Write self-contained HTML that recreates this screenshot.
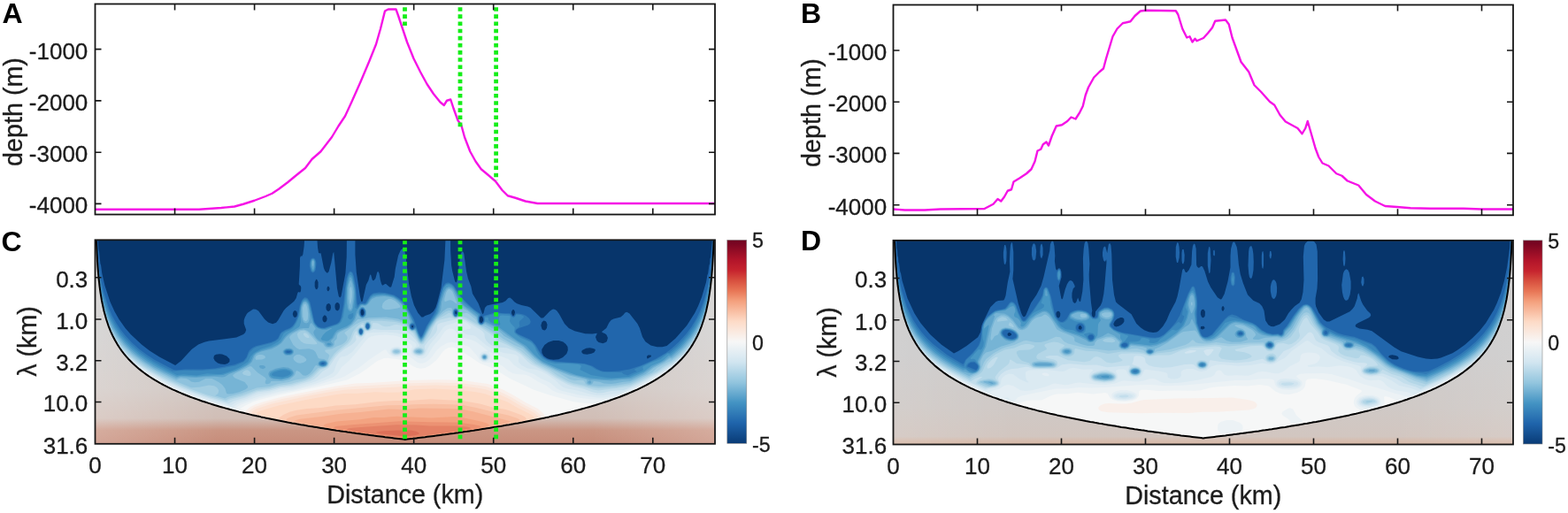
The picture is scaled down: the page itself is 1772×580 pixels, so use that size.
<!DOCTYPE html>
<html lang="en"><head><meta charset="utf-8"><title>Seamount bathymetry and wavelet power</title>
<style>html,body{margin:0;padding:0;background:#fff}body{width:1772px;height:580px;overflow:hidden}svg{display:block}text{font-family:"Liberation Sans",Arial,Helvetica,sans-serif;fill:#1c1c1c}.tk{font-size:26px}.cbt{font-size:23.2px;stroke-width:0.3px;stroke:#1c1c1c}.lb{font-size:28.7px}.tk,.lb{stroke:#1c1c1c;stroke-width:0.3px}.pl{font-size:32px;font-weight:bold;fill:#000}</style></head><body>
<svg width="1772" height="580" viewBox="0 0 1772 580">
<defs>
<linearGradient id="cb" x1="0" y1="0" x2="0" y2="1"><stop offset="0" stop-color="#6e0220"/><stop offset="0.1" stop-color="#b3152a"/><stop offset="0.15" stop-color="#c6242e"/><stop offset="0.2" stop-color="#d8503f"/><stop offset="0.25" stop-color="#e87656"/><stop offset="0.3" stop-color="#f4a07d"/><stop offset="0.4" stop-color="#fddbc7"/><stop offset="0.5" stop-color="#f7f7f7"/><stop offset="0.6" stop-color="#d1e5f0"/><stop offset="0.7" stop-color="#92c5de"/><stop offset="0.8" stop-color="#4393c3"/><stop offset="0.9" stop-color="#1f64ab"/><stop offset="1" stop-color="#093b76"/></linearGradient>
<clipPath id="cC"><rect x="107.5" y="271.3" width="700.5" height="230.5"/></clipPath>
<clipPath id="cD"><rect x="1009.5" y="271.8" width="700.5" height="230.7"/></clipPath>
</defs>
<rect width="1772" height="580" fill="#fff"/>
<g clip-path="url(#cC)"><defs><linearGradient id="ogCh" x1="0" y1="0" x2="1" y2="0"><stop offset="0" stop-color="#fff" stop-opacity="0.22"/><stop offset="0.2" stop-color="#fff" stop-opacity="0"/><stop offset="0.8" stop-color="#fff" stop-opacity="0"/><stop offset="1" stop-color="#fff" stop-opacity="0.22"/></linearGradient></defs>
<defs><linearGradient id="ogC" x1="0" y1="0" x2="0" y2="1" gradientUnits="objectBoundingBox"><stop offset="-0.001" stop-color="#cbcbcb"/><stop offset="0.472" stop-color="#cdcbca"/><stop offset="0.732" stop-color="#d1c8c4"/><stop offset="0.871" stop-color="#d1beb6"/><stop offset="0.927" stop-color="#ca9684"/><stop offset="1.001" stop-color="#c68b79"/></linearGradient></defs>
<rect x="106.5" y="270.3" width="702.5" height="232.5" fill="#07356b"/>
<path fill="#2166ac" d="M106 269.8l4.5 0 .9 12 .7 3 1.3 13.1 .7 2 1.2 9 3.2 14 5.9 18.1 5 11 5.1 9 7.1 10 6.1 7 12.3 11.6 9 6.9 11.1 7.1 18 9.5 6.5 -5 12 -13 7.5 -5.6 7 -2.8 5 -1.1 31 -4.2 8 -3.3 2 -2.1 1.1 -3 -2.5 -7 0 -4 1 -3 2.1 -4 1.3 -1.5 6 -3.9 3 .1 3 1.8 7 9.5 4 3.4 5 1.8 4 -1.5 2.2 -2.7 6.4 -11 2.7 -3 8.8 -7.3 2.5 -3.8 1.7 -6 .8 -.9 1 .6 1 -.2 .8 -1.5 .3 -4 -.8 -2 -1.5 -1 -.3 -1 1.2 -20 .1 -9.1 .7 -2 .5 -.4 1 .4 1.1 -2 1.3 -9 .6 -9 14.2 0 .6 10 1 6 1.2 .6 1 -.3 .5 .7 3.2 16.1 1.2 3 2.1 2.5 1 .1 1.4 -1.6 2.7 -10 1.9 -10.1 1 -2 3.8 41.1 1.8 9 1.4 1.5 1.3 -1.5 4.9 -26 1.3 -18.1 .2 -21 9.5 0 0 18 1.4 20.1 4.1 27 1.3 5.8 1 .5 .6 -1.3 4 -18 2.6 -5 1.8 -6.4 1 .2 1.4 5.2 .6 1 1 .3 2.1 -2.3 1.9 -7 1 -1.1 1.3 2.1 1.4 8 1.2 4 1.1 1.8 3 -1.6 1 0 4 3.5 1 .2 1 -.6 3.5 -11.3 1.1 -9 3.3 -15.1 2.7 -6 1.4 -1.4 1 -.1 1 .7 1.1 1.8 1.1 5 3.7 32.1 2.8 14 3 10.1 4.4 8.7 4 4.8 2 0 2.1 -1.5 5.7 -2 3.8 -3 2.4 -4.1 2 -5.9 4.3 -17.1 3.8 -31.1 1.1 -24 5.6 0 0 13 1 17.1 1 6 3 12 1.2 1.7 1.2 -1.7 3.6 -28.1 1.2 -4 1 -1.2 1 0 1 2.2 2.8 20.1 1.9 8 3.4 9 1.6 8 6.6 11.1 4.7 12.2 1.2 -1.2 1.5 -6 2.3 -2.4 4 -1.2 13.7 -2.4 3.3 -1.7 3 -3.2 2 -.5 2 1.3 3 3.4 3 2 5 1.8 7 1.4 3.1 1.3 12 11.7 2 .1 1 -.6 7 -7.2 2.5 -1.8 1.5 -.5 2 .4 2 1.7 2.5 3.4 6.1 11 4.8 5 6.6 3.2 12 3 8 .3 5 -.7 .4 .2 -1.8 4 1.4 4 2.1 2.1 4.9 1.1 3 -1.1 1.4 -1.1 1.1 -4 -1.5 -3.4 -2 -1.6 -2.6 -1 -.7 -1 5.1 -4 3 -6 2.3 -3 2.9 -1.6 8 -2 3 -2.3 2 -2.5 2 -.8 3 1.8 9 11.5 2.5 4.9 3.2 10 3.3 5.2 6 4.3 7.1 1.7 3 .1 3 -.1 5.1 -1.1 9.9 -8.6 12.7 -14.5 8.9 -14 3.9 -8 4 -10.1 5 -17 1.4 -8 .8 -2 1.2 -9 .7 -2 .3 -5.1 .7 -2 1.9 -21 4.5 0 0 233.5 -703.5 0zM244.1 400.7l-2.1 1.4 -.7 3 1.6 3 3.2 2.3 3 1.1 5 .4 3 -.9 2.3 -1.9 .1 -3 -3.4 -3.6 -5 -1.9 -3 -.4zM333.2 350.9l-1.5 1.1 -1 3 1 3 1.5 1.1 2 -1.1 .8 -3 -.7 -3zM357.2 315.8l-1.5 3.1 0 5 1.2 3 1.3 .3 1.3 -2.3 .1 -6 -1.4 -3zM366.2 356.5l-1.7 2.5 0 3 1.2 2 1.5 .6 1.9 -1.6 .6 -3 -1.3 -3 -1.2 -.6zM371.2 323.8l-1 .3 -.5 .8 -.3 2 .7 2 1.1 .3 1.4 -2.3 -.3 -2zM381.2 341.9l-1 .3 -1.5 1.8 -.3 3 .7 3 2.1 1.4 2.1 -1.4 .7 -3 -.3 -3 -1.5 -1.8zM409.2 349.8l-1 .8 -.6 2.4 .6 3 1 .8 1 -.2 1 -1.4 .3 -2.2 -1.2 -3zM465.3 367.9l-.2 2.1 1.2 .7 1 -1.8 -1 -1.2zM514.3 351.9l0 2.7 1 .8 1 -.9 .1 -1.5 -1.1 -1.6zM543.3 357.6l-1.2 1.4 -.2 4 1.3 2 1.1 .1 1.6 -2.1 .3 -2 -.9 -2.5 -1 -1zM579.3 350.3l-1.1 1.7 -.2 2 1.3 2.8 1 .3 1 -1.3 .7 -2.8 -.7 -2.1 -1 -.8zM614.4 362.6l-2 1.6 -1.1 3.8 1.2 4 1 1 1.9 .4 1 -.4 1.5 -2 .6 -4 -1.1 -3 -1.1 -1zM625.4 384.9l-5.9 2.2 -4.1 2.9 -3.1 5.1 .1 3.8 2 3.6 4 2.7 3 1.1 4 .4 6 -.4 4.7 -2.2 4.2 -4 1.5 -4 -.3 -4 -2.1 -3.2 -3 -2.3 -5 -1.7zM662.4 393.8l-4 1.9 -1.2 1.4 .5 2 1.7 1.1 4 .6 5 -1 3 -1.4 1.5 -2.3 -.5 -1.3 -3 -1.1 -3 -.4zM732.4 401.5l-1.5 1.6 .5 2.3 1 -.1 3.7 -2.2 -.7 -1.5zM371.2 342.9l-2 1.3 -.8 2.8 .3 3 1.5 1.7 1 .4 2 -1.4 .8 -2.7 -.3 -3 -1.5 -1.8z"/>
<path fill="#307ab6" d="M106 269.8l3.6 0 .4 12.2 2 20.1 2 13.5 3 14 6 18.7 4 9 4 7.3 5 7.6 6.2 7.8 6.8 7.3 8 7.1 8.8 6.7 9.2 5.9 21.1 11.1 3 .3 10 -.9 20 .1 14 -1.2 22 -4.1 10 -4.1 3.4 -4.1 2.2 -6 1.3 -2 3.1 -2.9 4 -1.9 16.9 -4.2 4.9 -2.1 3.2 -2.6 2.6 -5.4 1.5 -1.6 4 -2.5 5 -1.8 3 -2.1 3 -4 3.3 -7 2.1 -12 2.2 -6.1 1.4 -1.9 2 -1.7 2 .1 1 .6 1.7 1.9 1.6 3.1 4.7 21.3 1 2.3 3 3.4 3 1.4 4 .3 14.4 -4.7 2.7 -2 1.9 -4.1 3 -15.4 1.5 -17.6 1.9 -12 2 -6 1.6 -1.8 1 -.4 2.1 1.2 1.6 4 2.1 11 1.6 20.1 .6 2.1 3 -2.3 5 .1 1 -.5 5 -8.2 2 -1.8 2 -1 6 -.8 7 .5 10 2.5 5 2.9 4 3.3 6.4 8.2 7.2 13 5.5 15.7 2 4.1 1 -.2 1 -1.4 4.5 -10.2 9.8 -16 2.3 -6 6.6 -23.1 2.8 -3.4 2 -.9 2 0 3 1.2 2.6 2.1 7.4 11.6 6.8 7.5 8.9 8 7.2 5 .2 1 -1.9 2 -.6 2 .3 4 1.7 2 1.8 0 1.8 -2 .6 -2 -.8 -4 .5 -1 11.5 -3.3 5 -.3 5 .8 8 .1 2 3 1 .9 1 .2 1 -.6 2 -3.3 3 -.1 5 1.1 3.2 1.5 3.6 3 1.5 3 -.1 2 -1.1 1.6 -2.1 1.2 -9 3 -3 1.5 -1.4 1.7 .4 2 3 2.1 12.1 5.4 3 1.9 4.6 5.7 5.8 10 3.6 3.6 4 2.1 8 1.6 33 2.5 9 2.9 5.1 3.3 4.3 2 4.2 1 3.4 .1 13 -.7 12 -2.1 13 -4.2 16.1 -7.1 12 -7 6 -4.7 9 -8.1 8 -8.8 6 -8.1 5.6 -9.4 4.4 -9.2 4 -10.8 4 -14.5 3 -16.1 3 -27.4 .4 -12.2 3.6 0 0 233.5 -703.5 0zM324.2 396.8l-1.1 1.3 1.1 .6 2 .3 2.5 -.9 -.5 -1.2zM364.2 410l-1.5 1.1 .8 1 2.1 0 1.2 -1 -.6 -1zM408.2 348.9l-1.5 3.1 .1 3 1.4 2.5 2 .5 2 -2.7 .2 -3.3 -1.7 -3 -1.5 -.4zM415.2 366l-1.1 1 -.5 2 .6 2 1 .8 1.5 -.8 .7 -2 -.5 -2zM464.3 367l-.7 2 .4 2 1.3 1.1 1.4 -.1 1.8 -2 .1 -2 -.8 -1 -1.5 -.7zM515.3 349.9l-1.9 1.1 -.6 3 1.2 3 1.3 .4 1 -.6 1.2 -2.8 -.9 -3zM407.2 372.4l-1 1.4 0 2 1 1.7 1 .2 1.3 -1.7 .1 -2 -1.4 -1.8zM352.7 291.8l1.5 -.2 1.8 1.2 1 2.1 .5 3 -.8 7 -1 2 -1.5 1.3 -1 .1 -1.7 -1.4 -1.7 -6 0 -3 .9 -4.1z"/>
<path fill="#3a88bd" d="M106 269.8l3.3 0 1.7 29.3 2 15.6 3 15.4 6 19.6 4 9.2 4 7.4 5 7.7 6.3 8 6.7 7.1 8 7.2 7.7 5.8 9.3 6.1 10.5 5.9 11.6 5.7 14 -1.1 18 .2 19 -1.6 20 -3.7 9 -4.2 3.3 -3.3 3.7 -7.9 4.4 -4.1 4 -2 16.6 -4.4 5 -2.2 2.8 -2.5 2.4 -5 1.6 -2 3.3 -2.1 6 -2.4 3 -2.4 3.4 -5.1 2.8 -7 1.9 -11 1.4 -4 1.5 -2.7 2 -1.6 1 -.2 2 1.1 2.3 3.4 1.3 4 4 18 1.4 2.6 3 3.1 4 1.6 4 0 14 -4.8 3 -2.5 2.4 -6 2.8 -16 1.3 -16.1 1.9 -11 1.6 -5 2 -2.1 1 .5 1.4 2.6 2.2 10 1.2 8 .6 15.1 .8 3 .8 .3 3 -3.6 5 0 1.7 -.7 4.8 -8.1 3.5 -2.4 6 -.6 7 .2 6 1.1 4 1.3 8 5.5 3 3.1 3.5 4.9 6 11 2.4 6 -.8 .9 -2 0 -1.5 1.1 -.6 2 .5 2 .7 1 1.9 .5 1.1 -.5 1.9 -2.2 1 .6 3 8.2 2 3.2 1 -.1 1 -1.1 5.9 -12.6 9.5 -14 6.6 -25 1.5 -4.1 3.4 -4 3.1 -.4 3 1.2 2.5 2.2 6.5 10.6 6 7 10 8.8 6.7 4.7 .5 1 -1.7 3 0 4 .6 2 1.9 1.5 2 -.5 1.6 -2 .6 -2 -.2 -4.3 11 -2.8 5 -.4 13 .8 2 2.8 2 .8 1.7 -.9 1.3 -2.4 1 -.2 4.1 .6 2.5 1 1.1 1 -.2 1 -4.5 4 -.7 2 .7 3 -.2 1 -4.7 4 -.5 2 .5 1 2.9 2.5 15.4 7.5 3.7 4.1 3.2 6 4.1 6 2.7 2.6 3 1.9 6 2 5 .9 26 1.5 7 1.1 6.2 2 5.8 3.7 7 2.8 22.5 .5 1.7 2 4.8 1.2 10.2 -4.2 -2.8 -2 1 -1 25.7 -11.5 11 -6.9 2 0 8 -6.8 7 -6.9 6 -7 6 -8.4 8 -15 4 -10.4 3 -10.1 3 -13.4 2 -13 2 -19.6 .1 -12.3 .6 -6 3.3 0 0 233.5 -703.5 0zM324.2 395.8l-2.1 1.3 -.1 1 1.2 1.3 4 .4 2 -.7 .8 -1 -.1 -1 -1.2 -1zM364.2 409.1l-2.2 1 -.5 1 .7 1.3 3 .8 2.5 -1.1 .6 -1 -.4 -1 -1.7 -1zM408.2 348.6l-1.6 2.4 -.1 4 .7 2 1 1 2 .3 2.1 -2.3 .4 -4 -1.5 -3 -1 -.7zM415.2 365.6l-1.4 1.4 -.5 2 .6 2 1.3 1.2 1 -.2 .9 -1 .6 -2 -.5 -2.2 -1 -1zM514.3 349.7l-1.2 1.3 -.6 3 1 3 1.8 .8 2 -2 .4 -2.8 -1.4 -2.9zM407.2 371.9l-1 1.1 -.2 3 1.2 1.9 1 .2 1.6 -2.1 .1 -2 -1.4 -2zM352.3 292.8l1.9 -.4 .8 .4 1.5 3.1 -.1 6 -1 4 -1.2 1.3 -1 0 -1.2 -1.3 -1.3 -5 .2 -5z"/>
<path fill="#4796c4" d="M106 269.8l3 0 .8 6 .2 16 .8 4.1 .2 8.2 2 15.4 3 14.7 6 19.1 3 7 5 9.2 5.8 8.5 6.2 7.6 7.4 7.5 8.3 7 10 7 10 6 11.6 6 10.8 4.8 7 -.7 15 1.2 12 -2.2 11 .8 5 -.1 3.6 -.8 11.1 -4 6.4 -3 9.2 -6 2.8 -6 3.9 -4.2 8 -4.5 11.1 -3.3 7.9 -4.5 3 -2.8 3.4 -6.8 2.7 -2 4 -1.5 4 -2.8 3.3 -4.7 2.4 -5 1.5 -5 1.7 -11 2.1 -4.5 2 -1.5 2 .3 1 .8 2 3 5.4 21.9 2 3 2.6 2.4 4 1.4 4 .1 15 -5 2.4 -1.9 1.4 -2 1.9 -5 2.5 -16 1.5 -19.1 2.1 -10 1.2 -1.9 1 -.3 2 2.2 3 14 .4 7 -.3 14.1 1.7 1 1.2 -.3 2.6 -3.7 1.4 -1.1 4 .5 1.4 -.4 1.9 -2 3.7 -6.4 3 -1.8 5 -.8 7 -.2 10.3 2.1 4.7 2.8 4 3.3 3 3.2 3.3 4.8 7.5 15 -.2 1 -2.5 1 -.9 1 -.5 2 .5 2 1.9 1.8 2 -.3 2 -1.7 1 .9 3 8.1 2 2.8 1 0 1.4 -1.6 6.6 -13.3 9.6 -13.7 1 -3 2.4 -12.3 4 -12.8 3 -3.8 3 -.5 3 1.1 2 1.8 7 11.6 5 6.5 17 13 -.8 6.4 .6 3 1.2 1.3 2 .4 1.4 -.7 2.2 -3 .3 -4 2.1 -.2 1.4 .2 .4 3 1.9 2 6.8 3 3.5 .7 1 -.7 0 -1 -1.7 -6 1.3 -3 2.4 -.5 9 .5 .5 2 -.9 4 1.7 3 3.9 4 .3 1 -.9 4 1 2 6.4 4.7 11.1 5.1 2 1.4 3 3.7 1.5 4.2 2.9 5 3.6 3.8 3 2.1 4 2 8 2 15 .1 11 1 2.8 1 .7 1 -1.5 4 12.5 6 17.5 3 6 .3 19 -1.5 15.8 -6.8 .7 -1 -.6 -3 1.1 -1 8 -4 11.1 -4.2 8 -6.2 3.3 .4 11.7 -10.3 10 -11.5 6 -8.8 5 -9.2 4 -9.6 4 -12.6 3 -13 2 -12.5 1 -8.5 .2 -8.2 .8 -3.8 .2 -16.3 .8 -6 3 0 0 233.5 -703.5 0zM315.1 419l-6 2.1 -2 1.7 -.1 1.3 2.1 1.2 10.1 1.3 5.9 -1.5 3 -2 .6 -1 -.9 -2 -3.6 -1.6 -4 -.3zM325.2 395l-3 1 -.9 1.1 -.1 1 1 1.4 2 .9 2 .1 2 -.3 2 -1.1 .4 -2 -.7 -1 -1.7 -.8zM363.2 408.7l-2 1.3 -.4 1.1 .2 1 1 1 3.2 .6 2 -.5 1.4 -1.1 .1 -2 -1 -1 -2.5 -.7zM399.2 353.8l-5.5 2.2 -.6 3 1.7 2 1.4 .3 2 -1.3 1.3 -3zM409.2 347.8l-2 1.2 -.6 1 -.7 3 .9 4 2.4 1.7 2.2 -.7 1.3 -2 .4 -2 -.3 -3 -1.2 -2zM414.2 365.8l-1.1 2.2 .1 2 1.3 2 1.7 .3 1.6 -2.3 -.2 -3 -1.4 -1.6zM514.3 349.3l-1.6 1.7 -.6 3 1 3 1.2 1 1 .1 2.2 -2.1 .5 -3 -1.3 -3zM407.2 371.7l-1.3 1.3 -.1 3 1.2 2 1.2 .4 1.5 -1.4 .5 -2.8 -1 -2 -1 -.6zM352.1 293.8l1.1 -.8 1 0 1 .8 .7 2.1 -.1 6 -.6 2.7 -1 1.7 -1.3 -.4 -1.4 -4 -.3 -4z"/>
<path fill="#5fa4cc" d="M106 269.8l2.9 0 .7 5 .3 17 .8 4.1 .3 10.5 .7 2.5 .3 7.1 .8 2.9 .2 4.4 2 10.4 3 11.5 3 8.9 3 7.2 5 9.4 6 9 6 7.4 7 7.2 8 6.8 9.8 7 10.2 6.2 11.2 5.8 12.9 5.7 4 -1 18 1 10 -1.1 20 -.8 14.3 -4.8 11.9 -6 4.8 -4 3.1 -7 2.9 -3 6 -2.9 12 -3.4 7 -3.4 3.2 -2.3 4.3 -6.1 3.6 -3.5 12.4 -7.5 .9 -1 1.5 -5 -.5 -9 .7 -8 2 -5.2 2 -1.5 2.4 .7 2.1 3 3.1 15 2.7 7 2.7 3.5 3 2.1 4 1.2 5 0 4.5 -1.8 1.8 0 -7.3 4.6 -3.3 3.4 -2.3 4 .4 1 1.9 1 4.3 .8 2 -.5 4.2 -3.3 3.2 -6 2.6 -2.8 10.6 -4.2 4.4 -3.1 4 -5.3 2.6 -8.6 4.8 -7 1.6 -.5 3 .4 2 -.6 1.4 -1.3 2.6 -4.8 3 -2.5 4 -1.3 7 -.7 6 .5 6.6 1.7 4.7 3 5.7 5.3 5.1 7.4 5.3 11.4 .2 1 -2.9 3 .1 4 2.3 2.1 1.4 -.1 2.6 -1.3 1 1.3 3.6 9 1.4 1.4 1 .1 2.1 -2.5 6.1 -12 10.5 -15 1.1 -3 2.6 -13.1 3 -9 2.6 -3.7 3 -1.2 3 .7 2 1.6 2 2.9 4 8.2 4.7 6.6 3.7 3 6.6 4 6.2 5 .7 1 .3 7 1.8 2.6 1 .4 2 -.3 3 -3 1 .1 16 7.3 19.2 13.9 10.1 6.1 9.1 10 5.6 5 4.4 3 15.6 7 22 8 16.1 3.4 19 1.5 26 -2 15 -6.5 9 -7 10.1 -4.3 3.5 -2.1 5.5 -5.2 3 0 11.3 -9.8 9.7 -11 6 -8.7 5 -9 4 -9.3 4 -12.3 3 -12.9 2 -12.9 .3 -7.1 .7 -3 .3 -10 .8 -3.1 .2 -17 .8 -6 2.9 0 0 233.5 -703.5 0zM317.1 417.1l-6 1.4 -4 1.7 -2 1.9 -.3 2 .4 1 1.9 1.7 2 .7 9.1 .9 8 -2 2.3 -1.3 1.9 -2 .3 -2 -.5 -1 -3 -2.2 -5 -1.2zM323.2 394.8l-2.6 2.3 .3 2 1.3 1.2 2 .7 3 0 2 -.5 1.8 -1.4 .3 -2 -2.1 -2.1 -3 -.6zM364.2 407.9l-2 .6 -1.8 1.6 -.1 2 .8 1 2.1 .9 2 .2 3.1 -1.1 1.2 -2 -.3 -1.3 -2 -1.5zM370.2 388l-.7 1.1 .7 1.2 2 .3 1.9 -.5 .2 -1 -1.1 -.8 -2 -.6zM408.2 347.7l-2.2 2.3 -.5 2 .1 3 1.6 3.1 1 .7 2 .2 2.5 -2 .8 -2 -.1 -3 -.6 -2 -1.6 -1.9 -1 -.6zM415.2 364.9l-1.5 1.1 -.9 3 .6 2 1.8 1.7 2 -.9 1.1 -2.8 -.9 -3zM515.3 348.9l-2.5 1.1 -1 4 1 3 1.5 1.3 1 .1 1 -.5 1.5 -1.9 .5 -3 -1.2 -3zM547.3 402.6l-.8 .5 -.2 1 1 .8 1.4 -.8 -.2 -1zM407.2 371.4l-1.5 1.6 -.1 3 1 2 1.6 .7 1.7 -1.7 .5 -3 -1.2 -2.2zM353 293.8l1.4 0 1 2.1 -.1 5 -1.1 3.8 -1 -.1 -1.3 -4.7 .1 -4zM394.9 313.9l1.3 -.7 1.5 1.7 2.5 10.4 .5 4.6 -.2 8 -1.5 10.1 -1.2 3 -1.6 .9 -2 -.7 -1.4 -2.2 -.9 -7 .3 -16.1z"/>
<path fill="#76b4d5" d="M106 269.8l2.8 0 .7 5 .3 17 .9 5.1 .2 10 .8 3 .3 7 .8 3 .2 5.2 2 11.6 5 17.8 3 7.5 5 9.8 5 7.8 6.7 8.5 7.3 7.6 7.4 6.4 9.6 6.9 10 6.2 9.3 4.9 15.8 7.2 5 -1.4 17 1.2 12 -1.1 9 -.2 9 .7 3 -.6 4.9 -2.8 12.1 -4.9 10.9 -6.1 2.8 -3 2.9 -7 2.4 -2.3 5 -2.2 12 -3.2 6 -2.8 5 -3.5 5.4 -7.1 4.7 -4 11 -5.4 4 -.7 5.5 .1 .7 -1 .8 -3.4 1 -1.2 1 -.2 4.3 5.8 .2 1 -1.9 2 -.6 2 1.1 3 2.9 4 3 2.5 6 2.3 .6 2.3 1.4 1.3 2 .5 3 -.3 1.9 -1.5 .2 -1 -2.4 -3.1 .4 -1 2.8 -3 3.1 -5.4 3 -2.4 9 -3.7 5 -3.8 4.2 -5.7 2.8 -7.7 1.4 3.7 2.6 2.5 2 .2 2.6 -1.7 1.1 -2 -.1 -5 -2.6 -3.8 -2 -.6 -1.2 .4 0 -1 1.2 -.6 3 .3 2 -.5 2.4 -2.2 3.6 -5.1 5 -2.1 9 -.8 7.6 .9 4.6 2 6.2 5.1 2.7 3 4 6 4.3 11 .3 1 -1.6 4 .4 3 2.6 2.4 4 -.7 4 9.3 2 2.5 1 .2 2.3 -2.7 6.9 -13 11.4 -16 1.3 -3 1.1 -9 3.1 -10.1 2.2 -4 2.7 -1.3 3 .9 2 2 4.7 9.4 5.2 7.1 16.9 13 1.4 7 1.8 1.9 2 .5 4 -2.3 15.9 6.9 9.1 7.1 19 12.4 12.1 12 9 6.8 14.5 6.8 16.5 6.2 18 4.4 4 1.8 4 -.3 20 1.2 13 -1.4 10 -.4 13 -5.8 12.1 -8.2 12 -6.3 6 -4.5 2 .1 1 -.6 12 -10.5 10 -11.8 6 -9.2 5 -9.8 4 -10.4 3 -10.5 3 -16 .2 -5.2 .8 -3 .3 -7 .8 -3 .2 -10 .9 -5.1 .2 -16 .8 -6 2.8 0 0 233.5 -703.5 0zM294.1 412.9l-1.4 1.2 1.4 2.2 3 1 2.6 -1.2 .4 -1 -1 -1.4 -2 -.8zM323.2 394.1l-2.1 1 -1.5 2 .2 2 2.4 2.3 2 .6 4 -.3 2 -.8 1.7 -1.8 -.1 -3 -1.6 -1.6 -3 -.9zM362.2 407.7l-2 1.4 -.8 2 .1 1 1.7 1.7 2 .7 3 0 2 -.8 1.6 -1.6 .1 -2 -1.7 -2 -3 -.9zM406.2 371.8l-.9 2.2 .3 3 1.6 1.8 1 .2 2 -2 .5 -3 -1.5 -2.5 -2 -.4zM414.2 365l-1.4 2 -.1 3 1.5 2.5 2 .4 1.8 -1.9 .5 -3 -.8 -2 -1.5 -1.4zM473.3 396.9l-.8 .2 .8 .7 1.2 -.7zM513.3 348.8l-1.5 2.2 -.1 4 1.6 3 2 .6 1.4 -.6 1.4 -2 .7 -2 -.1 -2 -.9 -2 -1.5 -1.5 -2 -.2zM547.3 401.8l-1 .4 -.6 1.9 .6 1.1 2 .3 1 -1 .1 -1.4 -.9 -1zM665.4 430.8l-.9 1.3 .3 1.1 1.6 .5 1.4 -.5 .3 -1.1 -.7 -1.5 -1 -.3zM320.2 415.1l-8.1 1.5 -7 3 -1.3 1.5 -.6 2 1.1 3 1.8 1.7 2 .8 9 1 8.1 -1.5 5.2 -3 1.4 -2 .2 -2 -1.8 -3.1 -4 -2.3zM353.1 294.9l1.1 -.1 .5 2.1 -.5 3.8 -1 .1 -.5 -2.9zM395.9 316.9l.3 -.4 1 1.7 1 3.1 1.5 8.6 -.3 7 -1.3 9.1 -.7 3 -1.2 1.2 -1 -.3 -1.1 -1.9 -1.1 -11.1 .3 -11 .9 -4.6zM343.4 342l1.8 -.5 1.8 1.5 1.2 2.3 1 4.7 .6 7 -.3 5 -1.3 2.7 -2 .8 -2 -.6 -1.2 -.9 -1.1 -2 -.9 -4 -.4 -7 .3 -4 1.3 -3.6z"/>
<path fill="#8ec2dd" d="M106 269.8l2.7 0 .8 6 .2 17 .9 4.1 .2 10 .8 3 .2 7 3.2 21 3 13 3 9.1 5 10.8 6 9.9 7 9 10.4 10.4 11.8 9 14.8 9.1 18.3 8.9 4.8 2.2 5 -1.8 6.1 .6 2.7 1 3.2 2.5 4 .7 5 -.6 7.2 -3.6 7.1 0 7.7 4 4 3 3.3 4.1 1.7 5.9 2 .5 4.6 -.4 7.8 -2 7 -3 2.5 -2 -.1 -2 -3.4 -4.1 -11.4 -4.9 -1.9 -2.1 0 -1 2.7 -2 16.2 -7.9 2 .1 7 7 8.7 5.8 1 2 -1 2 -.1 2.1 1.4 1 1 0 3.1 -1 1.1 -2.1 12.9 -.2 8 -2 5.1 -3.8 1.2 -2 .7 -2.9 1 -1.2 3 1.2 4 4.1 3 .5 2.2 -.7 3 -2 2.5 -3 3 -5 1.3 -1.1 4 1.6 3 .4 3 -.4 2 -1.1 1.3 -2.4 -1.3 -3.3 -3 -1.9 -5 -.3 -1.4 -.5 -3.2 -7 -2.4 -2.4 -5 -1.5 -11 .7 -3 -1.4 -3.8 -3.4 -4.2 -8.1 0 -1 1.4 -2 2.5 -2 7.1 -3.7 5 -.9 4 1.3 2.8 2.3 9.2 9.8 6 2.8 1.4 2.5 1.6 1.3 2 .6 3 0 3 -1.1 1.5 -1.8 0 -4.1 2.9 -3 .4 -4 1 -2 2.8 -2 9.4 -4.4 4 -3.3 6 -6.3 6 -.2 6 -1.6 20 -.7 14 2.1 10.1 4.6 1 .9 1.6 5.9 2.4 1.7 3 -.2 1 .5 4 9.3 1.1 1.7 1.9 .9 2 -1.9 7 -13 6 -9 9 -9.9 5 -3.5 3 -.5 2 .2 .8 1.7 .1 4 .9 3 2.2 1.8 2 -.2 1.7 -1.6 1.1 -2 .4 -3 -1.2 -5 1 -.8 9 5 10 7.8 1.7 6 2.3 2.3 2 .5 4 -1.1 7 3.8 8.3 3.5 6.2 6 7.5 3.9 14 8.4 12.1 11.9 8 6.2 17 8.2 15 5.8 19 4.7 .9 1 -.2 3.1 1.3 1.2 2 .5 2 -.3 1.6 -1.4 .4 -1.7 1 -.6 6.9 1.2 4.1 1.4 8 .4 5 -.3 9 -1.8 8 -.8 17.3 -7.9 8.8 -7 12 -6.3 6 -4.3 3 -.1 7.8 -6.3 7.2 -7.2 6 -7.1 6 -8.7 4 -7.2 4 -8.9 5 -17.1 3 -17 .4 -6 .8 -3 .2 -7 .8 -3 .2 -10 .9 -4.1 .3 -18 .7 -5 2.7 0 0 233.5 -703.5 0zM407.2 370.8l-1.6 1.2 -.7 3 .9 3 2.4 1.3 1 -.5 1.3 -1.8 .4 -3 -1.7 -2.9zM414.2 364.4l-1.7 2.6 -.1 3 1.8 2.9 2 .3 2.1 -2.2 .5 -3 -1.6 -3.1 -1 -.7zM471.3 395.9l-1.3 1.2 .2 1 1.1 .7 3 .4 2.1 -1.1 .1 -1 -1.2 -1.3 -2 -.3zM546.3 401.7l-1.2 1.4 .2 1.6 1 1.1 2 .3 1.3 -1 .3 -2 -1.6 -1.7zM395.6 324.9l.6 -.7 1 .8 .9 4.9 -.2 6 -1.7 8.8 -1 -2.1 -.5 -5.7 .2 -9zM505.8 327.9l1.5 -.8 1 .1 1.4 .7 1.8 2 4.8 12.1 0 1.7 -5 -3.6 -2 -.8 -2 .1 -4 1.6 -1 -.4 -.1 -2.7 1.1 -4 1 -3.4zM439.1 337.9l3.1 .1 4.2 1.9 4.6 4.1 1.3 2 -.1 1.4 -3 1.2 -9 1.5 -4.8 -.1 -2.6 -1 -1.2 -2 1 -4 2.7 -3.1zM343.5 344l1.7 -.5 1.1 1.5 .9 2.6 1 7.5 -.4 5.9 -1.5 2 -1.1 .3 -2 -1.6 -.9 -3.7 -.3 -10zM292.6 401.1l3.5 -.1 2.7 1.1 1 1 -.2 2 -3.5 1.5 -7 .2 -.6 -1.7 .6 -2 1 -1zM335.1 401.1l3.1 -.3 5 2.3 3.1 3 -.4 2 -2.7 1.7 -4 .9 -3 -.5 -2 -1.1 -2.1 -2 -.7 -2 .8 -2z"/>
<path fill="#a2cde2" d="M106 269.8l2.6 0 .9 7 .1 16 .9 4.1 .2 10 .8 3 .2 7 .8 3 1.5 13 4 19.1 3 9.7 4 9.4 5 8.9 7 9.6 8.9 9.5 8.4 7 11.6 8 12.2 7 20 9.7 18 7.4 9 -.5 11 -2.2 6 .8 3.2 1.9 1.9 3 -.5 3 -1.6 1.8 -2.1 1.2 11.1 3.2 4 -1.8 15 -3.8 17 -6.4 14 -1.3 10 -3.2 12.3 -1.8 7.8 -2.6 9 -1.6 5 -1.8 4.2 -3 7 -7 6.8 -.8 2 -.6 2 -1.6 .8 -2 -.5 -4 1.8 -5 -1.1 -1.8 -3.4 -2.2 -.6 -2.1 1 -.6 7 -1 5 -2.7 6 -2.2 3 -1.9 2.4 -2.6 1.1 -3 -.5 -2 -2.6 -3 -.1 -1 12 -9 6.7 -3.4 10 -2.3 13 -.8 12 1 9 1.9 8.1 4.1 2.2 4.5 1.8 1.7 4 .8 5.2 10.5 1.8 1.9 1 .1 2.4 -2 7.6 -14.1 7 -10.1 10 -8.3 4 -1.5 2.6 1 1.7 5 2.7 2.2 2 -.3 5 -4.1 6 -1 2.7 1.2 7.3 6.1 2.7 4.9 1.3 1.2 2 1.1 4 .7 13 7.7 8.1 6.3 12.9 7.2 9 3.7 12.1 11.8 5 4.1 5 2.8 18 8.5 13.6 8 5.4 1.2 5 -.5 4.4 .3 1.6 .9 1.4 3.2 2.6 1.5 13 1.3 18 -1.2 17 -2.9 24.9 -11.8 5.1 -5 13.1 -7.2 3 -.8 1.4 -1 8.6 -7 7 -7.1 6 -7.2 6 -9.1 4 -7.7 3 -7.3 5 -18 3.1 -17.8 .4 -6 .8 -3 .2 -7 .8 -3 .2 -10 .9 -4.1 .2 -17 .8 -6 2.6 0 0 233.5 -703.5 0zM406.2 370.9l-1.5 2.1 0 3 1.5 2.9 2 .7 1.2 -.6 1.4 -2 .2 -4 -1.8 -2.3 -2 -.3zM414.2 363.5l-1.7 2.5 -.4 4 1.8 3 2.3 .5 2.5 -2.5 .3 -4 -1.1 -2 -1.7 -1.6zM447.2 395.9l-1.9 1.2 .2 1 .7 .5 2.2 .5 2.4 -1 .2 -1 -.8 -.7zM471.3 395l-2 1.1 -.6 1 .1 1 1.5 1.2 4 .7 2 -.6 1.2 -1.3 -.2 -2 -1 -.9 -2 -.6zM547.3 400.8l-2.2 1.3 -.5 2 1.4 2 2.3 .4 1.8 -1.4 .3 -2 -1.1 -1.6zM340.1 374l4.1 -.2 3.9 2.2 9.6 11.1 .7 2 -3.2 .4 -9 -.7 -3 -.8 -3 -1.9 -3.2 -4.1 -1.3 -4 1 -2zM276.4 419.1l2.7 -.9 2 .7 2.1 2.2 .4 3 -1.5 .9 -2 0 -5 -1.5 -1.1 -1.4 .2 -1z"/>
<path fill="#b3d6e7" d="M106 269.8l2.5 0 .9 7 .1 16 .9 4.1 .2 10 .8 3 .3 8 .7 2 1.4 13 4 19.1 4.2 13.3 4 9.3 5 8.9 6 8.1 7.9 8.5 9.1 7.7 10.6 7.3 12.4 7.1 18.1 9.1 18 7.6 20.5 7.3 21.5 6.4 4 -2.2 14 -3.4 17 -6.3 14 -1.9 11 -3.1 13.1 -1.8 16 -4.4 5.6 -2.4 3.4 -2.4 7.9 -7.6 6.1 -1.4 3 -1.8 1.2 -1.8 .8 -4.3 5.5 -7.7 3.5 -3.6 11.8 -9.4 2.7 -4.1 2.7 -7 1.7 -3 4.8 -5 4.3 -2.9 2.2 -.1 .3 6 1.6 2 1.9 .9 2.5 -.9 1.9 -3 .2 -2 -1.3 -4 1.2 -1 11.5 -.2 15 1.3 6 1.2 7.1 3.4 4 4.9 4.7 2.4 5.2 10 1.1 1.3 2 .9 2 -1 1.6 -2.2 7.5 -14 5.9 -8.6 3 -2.4 11 -6.2 2 .8 2.2 3.4 1.8 1.4 3 0 4 -2.2 3 .6 5 2.3 28.6 16.9 9.4 7.2 22 12.4 17.3 14.5 16.5 8 8.3 6 11.4 6 6.1 2.1 11.5 2.3 6 1.9 11 1.7 20 -1.7 17 -3 29 -14.3 6.5 -5 10.8 -6 8.7 -7 6.1 -5.9 6 -7.1 6 -8.9 7 -14.9 3.1 -9.3 3 -12 3.2 -18.1 .3 -6 .8 -3 .2 -7 .8 -3 .2 -10 .9 -4.1 .2 -17 .7 -3 .1 -3 2.5 0 0 233.5 -703.5 0zM407.2 369.9l-1 .3 -1.8 1.8 -.3 3 .4 2 1.3 2 2.4 1 1 -.4 1.5 -1.6 1 -4 -1.4 -3 -1.1 -.8zM447.2 395.1l-2 .6 -1 1 -.1 1.4 .9 1 2.2 .7 2 0 2 -.7 1 -1 .1 -1 -1.1 -1.3 -2 -.7zM472.3 393.9l-2 .6 -2.1 1.6 -.3 2 .6 1 1.8 1 3 .7 3 -.5 1.6 -1.2 .7 -2 -1 -2 -2.3 -1.2zM546.3 400.6l-1.7 1.5 -.1 3 1.8 1.7 3 -.2 1.4 -1.5 -.2 -3 -2.2 -1.6zM342.9 377l1.3 -.8 2.3 .8 2.7 3 .2 2 -2.2 .1 -2.1 -1.1 -1.8 -2z"/>
<path fill="#c3deec" d="M106 269.8l2.4 0 .9 7 .2 16 .8 4.1 .2 10 .9 4 .2 7 .7 2 .3 6 2.1 13 3.2 14.1 4.1 13 4 9.4 4 7.6 7 10.1 8.4 9 11.6 9.4 12 7.7 18.1 9.7 15 7.1 16 6.4 20 6.8 18 5.1 4 -2.2 16 -4.3 14 -5.6 14 -2 12 -3.3 13.1 -1.7 16 -4.5 6 -2.4 3.1 -2.2 8 -8 6.9 -2.5 1.8 -1.5 2.2 -5.2 6 -7.8 4 -3.9 10.2 -8.1 2.7 -3.1 1.8 -3 2.3 -6 2 -2.8 1 .2 1.2 3.6 1.8 2 2 .5 1 -.5 2.4 -3 .6 -3.5 4 .8 3 -2.3 1.4 -3 .2 -3 1.2 -1 5.2 .6 5 2.9 3 .8 5 -.2 5 -1.8 3 -.3 4 .6 3.8 1.4 3.3 1.7 4 3.8 3 1.8 6.6 10.8 1.4 1.4 2 1 2 -.6 1 -.9 5.6 -8 1.8 -3 2.8 -7 3.8 -5.9 4 -2.5 11 -2.9 6 1.5 6 -1.6 7 2.8 16.8 9.6 9.2 6 3.8 3 5.2 5.3 11 4.6 14 8 16.1 13.6 16 8.3 10 6.7 12 6.2 6 2 12 2.6 11 3.1 6 1 22 -2.6 14 -2.4 13.6 -6.3 16.5 -8.6 9.1 -6.4 7.9 -4.3 7.2 -5.7 6.8 -6.3 6 -7 6 -8.8 4 -7.6 4 -9.4 3.2 -10 3 -12 3.2 -18.1 1.3 -16 .8 -3 .2 -10 .8 -4.1 .2 -17 .8 -3 .1 -3 2.4 0 0 233.5 -703.5 0zM445.2 395l-2 2.1 .7 2 1.3 .8 2 .6 3 -.3 2 -1 .8 -1.1 -.4 -2 -1.4 -1.1 -3 -.6zM473.3 393.1l-3 .7 -2 1.3 -1.2 2 .2 1.2 1.6 1.8 2.4 1 3 .3 3 -.8 2.1 -2.5 -.5 -3 -2.6 -1.9zM547.3 400l-2.4 1.1 -.8 1 -.3 2 1.5 2.5 3 .7 2.2 -1.2 .6 -1 .2 -2 -1.1 -2zM409.1 367l1.2 0 .5 2 -.5 1 -2.6 -1 0 -1z"/>
<path fill="#d2e5f0" d="M106 269.8l2.3 0 1 7 .1 17 .8 3.1 .2 10 .9 4 .2 7 .7 2 .3 6 2.1 13 3.2 14.1 4 13 4.2 10 6 11 6 8.4 8 8.6 11.4 9.1 10.8 7 19.9 10.8 15 7 16 6.3 19 6.5 20 5.7 6 -3.2 13 -3.8 14 -5.8 13 -1.9 12.9 -3.5 13.2 -1.5 20 -5.8 4.5 -1.8 4.1 -3 5.6 -6 6.8 -4.1 7.1 -10.9 4.9 -5.6 6 -4.7 7.9 -4.7 3.6 -3 2 -3.1 -.7 -3 .2 -2 1 -.2 3 2.7 2 -.2 2.9 -2.3 2.1 -4.2 4 -.2 5 -2.6 9 1 20 -.1 8.1 2.1 5 3.3 5 5.4 4.5 6.4 .3 1 -.8 .6 -4 1.9 -2 1.6 -.9 1.9 .5 2 1.4 1.4 3 1.3 3 .3 3 -.6 1.9 -1.4 1.2 -2 .2 -2 -1 -4 .4 -1 4.3 -5.9 5.3 -5.2 3.1 -4 1.3 -3 .1 -5 1.2 -1.7 3 -1.2 21 -5 3 .6 4 1.8 18.4 11.5 2.6 3 .7 5 1.5 3 2.7 3.1 2.6 2 6.5 2.3 11 .8 10.3 3.9 6.2 4 7.5 7.7 4.1 3.2 16.2 8.1 11.8 7.6 13 7.1 6 1.9 11.2 2.5 10.8 4 6 1.2 5.6 -.2 9.4 -2.3 14 -.9 2 -.6 12.3 -5.2 12.2 -6.1 16.4 -9 10.8 -7 8.4 -6.5 7 -6.6 5 -5.9 6 -8.7 5 -9.4 4.2 -10 4 -13 2.2 -9 3.1 -18.1 .2 -5 .8 -3 .2 -7 .8 -3 .3 -11 .8 -4.1 .2 -17 .7 -2 .2 -4 2.3 0 0 233.5 -703.5 0zM446.2 394l-2.3 1.1 -1.4 2 .5 2 1.2 1 2 .8 3 .1 2 -.5 2.1 -1.4 .6 -2 -1.7 -2.3 -3 -1zM546.3 399.7l-2.7 2.4 0 3 2.7 2.5 3 -.1 2.4 -2.4 -.2 -3 -2.2 -2.2z"/>
<path fill="#dbeaf2" d="M106 269.8l2.3 0 .1 4 .7 2 .2 18 .9 3.1 .1 10 .9 4 .2 7 .8 3 .2 5 .8 3 1.3 10 3.1 14.1 4 13 5.1 12 6.2 11.1 6.1 8.3 8 8.5 10 8.2 10.8 7 21.7 12.1 15.4 7 18.3 7 21.7 7 16.2 4.4 6 -4.1 12 -3.7 12 -5 13 -2.3 12 -3.4 14.1 -1.5 22 -5.8 5.1 -1.7 15.2 -7 3 -2 1.8 -2 3.9 -10.6 3 -5 2 -1.2 3 -.3 3 -1.1 6 -4.2 13 -16 3 -4.7 1 -.4 5 -.7 16 -.3 12 .9 5.6 1.5 14.5 8.8 2.2 2.3 .1 2 -3.3 2.8 -1.5 2.2 -.2 2 1 2 1.7 1.4 3 1.2 5 .3 3 -1.2 1.7 -1.7 2.8 -7 2.4 -4 7.5 -9.1 7.6 -10.2 3 -2.1 8 -2.2 8 -3.2 3 .6 3.9 2.1 3.8 3 1.2 2 -.1 1 -1.3 1 -6.2 1 -1.3 .9 -.1 1.1 1.7 2 3.4 1.5 7 .7 2 .7 12 10.4 9 5.2 11 3.6 11 1.3 3 .9 2 1.4 .9 1.4 -.3 4 .5 2 3 3 6.9 3.4 10.3 1.6 5.8 2 6.9 4 8.5 6 6.4 6.1 3.1 2 4.1 1.4 11 2 15 4.1 7 1.3 7 0 19 -2.8 14.8 -6 12.7 -6.1 26.6 -15.2 8 -5.8 8 -7.1 7 -7.8 5.1 -7.1 5.2 -9.1 5 -11 3.1 -9 3 -11 3.2 -16.1 1.2 -12 .8 -3 .2 -7 .9 -4 .1 -10 .9 -3.1 .2 -18 .7 -2 .1 -4 2.3 0 0 233.5 -703.5 0zM445.2 393.5l-2.5 1.6 -1.1 2 .5 2 1.1 1.3 3 1.3 3 .1 3 -.9 2.1 -1.8 .4 -1 -.2 -2 -2 -2 -3.3 -1zM547.3 398.9l-2 .5 -1.9 1.7 -.7 3 1.8 3 1.8 1 2 .2 2 -.7 1.6 -1.5 .7 -3 -.8 -2 -1.5 -1.5z"/>
<path fill="#e4eef4" d="M106 269.8l2.2 0 .1 4 .8 2 .1 18 .9 3.1 .2 11 .8 3 .2 7 .8 3 .3 6 .7 2 1.2 10 3.1 14.1 4 13 5 12 6.1 11.1 7.3 10 8.2 8.6 10.3 8.4 10.7 7 19.8 11.1 15.2 7 18.1 7 21.5 7 19.5 5.3 6.3 -4.3 22.7 -8 24 -5.8 15.7 -2.2 22.4 -5.6 7.6 -2.5 15.4 -6.2 3.8 -2.8 5.2 -8 8 -7 8.2 -9 10.8 -13.9 3 -3 3 -1.7 7.8 -1.5 8.2 -.4 11 .9 5.6 1.5 13.5 9.1 .6 2 -1.4 3 -.3 3 .7 2 1.4 1.6 6 3 5 .7 3 -.9 2.8 -2.4 6.2 -10.3 7.8 -8.8 5.2 -7.8 3 -2.8 3 -1 3 .4 2 1.2 5.7 6 3.3 2.3 11 3.1 4 1.7 5.8 4 7.4 6 .7 1 -3.9 .1 -3 1.1 -2.4 2.8 -.2 2 .4 2 1.3 2 1.9 1.4 4 .4 2 -.8 2.2 -2 .8 -3 -.3 -2 -1.4 -3 .7 -.2 21.2 8.2 1.8 1.3 4 4.8 4 3 7 3.5 11.9 4.4 8.2 5 9 4 3 1.9 5.9 5.2 5.1 2.5 20 4.8 20 3 9 0 12.7 -2.3 15.4 -6 15.2 -7 11.1 -6.1 16.5 -10 8.2 -6 8 -7.3 6 -6.7 6.5 -9 5.1 -9.1 4.9 -11 6.1 -20 2.9 -15.1 .4 -5 .8 -3 .2 -5 .8 -3 .2 -7 .8 -3 .2 -11 .9 -3.1 .1 -18 .8 -2 .1 -4 2.2 0 0 233.5 -703.5 0zM446.2 392l-4 1.7 -1.6 2.4 .1 3 1.5 1.8 3 1.5 4 .3 4 -1.1 1.9 -1.5 1.1 -3 -.5 -2 -1.5 -1.7 -4 -1.6z"/>
<path fill="#ecf2f5" d="M106 269.8l2.1 0 .1 4 .8 2.1 .2 17.9 .8 3.1 .2 11 .9 3 .2 8 .8 2 .2 6 .7 2 1.4 11 3.1 14.1 4 13 5.1 12 4.9 9.1 7.8 11 8.7 9.3 11 9 17 10.8 12.8 7 15.3 7 18 7 21.5 7 21.5 6 1 -.2 3.1 -2.8 3.7 -2 20.2 -7.2 22 -5.4 17.1 -3 22 -5.1 32 -9.4 4.2 -2 16.3 -10 11.5 -9.2 16 -10.4 2 -.1 3 4.7 4 2.8 3 .8 4 .1 8.1 -2.6 2 0 11 8.3 3 1.2 3 0 4 -1.3 4 -2.9 3.2 -3.4 5 -7 4.8 -4.4 7 -4 5 -.9 8 1.6 9 2.5 3 1.4 8 8.9 3.7 5.9 3.3 2.4 3 .6 7 -.3 9 1.9 4 2.2 6 5.4 5 2.8 4 1 9 .5 5.5 1.5 10.6 6.6 9 4.3 6.6 5.2 5.4 2.6 23 5.8 19 2.2 12 0 4 -.6 6 -2 15.7 -6 15.6 -7 12.7 -6.8 15.1 -9.2 9 -6.6 8 -7.1 7.5 -8.4 5.1 -7 5.8 -10.1 4.2 -9 3.9 -11 4.1 -16 1.4 -9.5 .7 -1.6 .3 -5 .7 -2 .2 -6 .9 -3 .1 -7 .9 -3 .2 -11 .8 -3.1 .2 -17.9 .8 -2.1 .1 -4 2.1 0 0 233.5 -703.5 0z"/>
<path fill="#f6f7f7" d="M106 269.8l2.1 0 .1 5 .8 1.8 .1 18.3 .9 2.5 .1 10.5 .9 3 .1 8 .9 2.3 .1 5.7 .9 2.5 .2 4.5 .8 2.2 .2 3.8 .8 2 .2 3.1 .8 1.9 1.2 7.1 5.1 16 3.9 9 5.4 10.1 7.8 11 7.6 8.2 11 9.3 17 11 15.1 8.2 17 7.6 19 7.1 22 7 21 5.4 5 -3.7 5.7 -3 7.3 -3.1 9 -2.9 19 -4.8 40 -8.2 31.1 -7.1 6 -1.7 14 -6.8 8 -5.3 12.3 -9.2 7.7 -3 4 -.3 17 2.2 4.1 1.8 7 5 4 2 5 .9 5 -.8 5 -2.5 7 -5.3 2.8 -3 4.9 -7 3.2 -3 3.8 -2 3.3 -.5 4 .6 4.5 1.9 23.5 15.7 16.1 6.3 17.9 10.8 27.1 12.8 18 6.1 26 7.1 9 1.5 8 .6 7 0 6.6 -.8 17.4 -5.8 15 -5.8 16 -7.3 12.1 -6.5 15 -9.4 9 -6.7 7 -6.4 6.6 -7.2 5.9 -8 5.3 -9.1 4.7 -10 4.3 -12 2.9 -11 1.3 -8.1 .8 -2 .2 -3.8 .8 -2.2 .2 -4.5 .7 -1.5 .3 -6.7 .9 -2.3 .1 -8 .9 -3 .1 -10.5 .9 -2.5 .1 -18.3 .8 -1.8 .1 -5 2.1 0 0 233.5 -703.5 0z"/>
<path fill="#f9efea" d="M461.2 430.1l32.1 -.9 29 .7 29 4 8 2.7 11 5 12 6.4 12 7.2 13.1 6.5 5.5 4.5 2.4 3 .6 2 -2.5 2.2 -7 2.4 -29.1 6.1 -54 8.9 -66.1 8.4 -65 -8.4 -60 -10 -46.1 -10 -6 -2 -2.6 -1.6 -.6 -1 2 -3 4.2 -3.2 5 -2.5 8 -2.8 21 -5.6 43.1 -8.8 20 -3.7 21 -3 21 -.8z"/>
<path fill="#fae8de" d="M464.2 433.2l30.1 -.7 27 .7 20 2.5 9 1.6 13 4.6 14 6.9 14.1 8.4 14 7.2 4.6 3.8 1.9 3 -.3 1 -1.5 1 -7.7 2.4 -19.1 4.2 -34 6 -47 7 -45.1 5.4 -66 -8.4 -54 -9 -48.1 -10.4 -6.7 -2.2 -1.5 -1 -.3 -1 2.4 -3 4.1 -2.6 15.2 -5.4 17.9 -4.5 48 -9.5 16 -2.6 17 -1.8z"/>
<path fill="#fce1d2" d="M464 436.2l28.3 -.8 28 .9 16.5 1.9 11.8 2 12.1 4 14.6 6.8 13 7.8 15.1 7.7 4.4 3.7 .5 2 -4.2 2 -17.8 4.3 -40 7.3 -40 6 -49.1 6 -63 -8.1 -54 -9 -16 -3.1 -32.2 -7.4 -6.5 -2 -1.3 -1 0 -1 .8 -1 4.7 -3 18.5 -6 41.7 -9 22 -4 19.3 -2.6 59 -3.1z"/>
<path fill="#fddac5" d="M468.6 440.2l22.7 -.7 28 1.6 18.7 2.1 10.1 2 25 9 11.2 6.5 15.1 7.5 3 2 1.4 2 -1 1 -2.6 1 -15.1 4 -39.8 7.4 -41 6 -47.1 5.8 -67 -8.7 -49 -8.3 -16.2 -3.2 -31.9 -8 -2.6 -1 -.8 -1 1.4 -1.3 3.7 -1.7 20.9 -6 33.9 -7 29.1 -5 9.5 -1.2 16 -.2 19 -1.5 15 .5 13 -.4z"/>
<path fill="#fbccb4" d="M486.6 451.2l35.7 1.9 20 3.5 16 4.3 12 1.9 6 1.7 13 4.7 3.7 2 1.9 2 -.4 1 -1.6 1 -6 2 -43.6 8.3 -41 6.1 -45.1 5.5 -51 -6.5 -34 -5.2 -44.7 -8.2 -10.1 -3 -1.6 -1 -.3 -1 4.7 -3.3 7 -3.2 8 -1.9 12 -1.9 16 -1 16 -2.5 22.5 -1.2 24.5 -3 20 -1.1 15.1 -.1z"/>
<path fill="#f8bfa3" d="M467.5 457.2l21.8 -.5 27 .7 7 .7 15 2.9 18 4.6 18 3.9 10 3.2 2.8 1.5 .4 1 -1.2 1 -7 2 -43 8.1 -43 6.1 -36.1 4.4 -50 -6.4 -28 -4.1 -44.1 -8.1 -8.3 -2 -2.5 -1 -.9 -1 .9 -1 2.9 -1.3 8 -2.3 44 -5.8 58 -5.6 21.1 -.3z"/>
<path fill="#f6b192" d="M464.8 462.2l10.5 -.7 45 .7 14.2 3 42.1 11 -.7 1 -3.2 1 -32.1 7.1 -33.5 5 -49.9 6.2 -48.9 -6.2 -26.9 -4 -41.5 -8.1 -6.6 -2 0 -1 5.9 -1.5 24 -2.6 22 -3.3 22 -1.7 32 -3.7 17 .5z"/>
<path fill="#f3a381" d="M441.4 471.2l6.8 -.4 39.1 1.6 27 -1.5 13 2 17 3.8 6 1.9 2.4 1.7 -.2 1 -5 2 -15.3 3 -73.9 9.8 -24.8 -2.8 -43.4 -6 -16.3 -3 -6.7 -2 -1.4 -1 .5 -1 3 -1.2 11 -2.5 27 -2.3 15 -2.2 12 -.2z"/>
<path fill="#ec9273" d="M451.2 476.2l35.1 1.1 32 .2 17 2.4 6.3 1.4 2 1 -.9 1 -3.2 1 -16.5 3 -64.7 8.4 -21.7 -2.4 -37 -5 -17.1 -3 -3.8 -1 -1.7 -1 1.8 -1 2.4 -.5 19 -1.9z"/>
<path fill="#e48166" d="M448 480.3l22.3 .1 15 1 33 0 10 1.3 2.7 .6 1 1 -2.7 1 -10.9 2 -60.1 7.8 -25.3 -2.8 -28.6 -4 -10.7 -2 -2.1 -1 3 -1 6.6 -.8z"/>
<path fill="#dd7059" d="M433.3 487.3l16.9 -.9 14.1 .2 6 1.1 3 1.6 .6 1 -1.5 1 -4.1 1 -11.1 1.2 -27.5 -3.2 -4 -1 -.5 -1z"/>
<path d="M105.5 269.3H810.0V503.8H105.5zM107.5 266.3L107.5 266.3L107.5 266.3L107.6 266.3L107.7 266.3L107.8 266.3L108.0 266.3L108.2 266.3L108.5 266.3L109.0 274.3L109.5 286.0L110.0 295.1L110.5 302.6L111.5 314.3L112.5 323.4L112.5 323.4L113.5 330.8L115.0 340.0L117.5 351.7L120.0 360.8L122.5 368.3L125.0 374.6L127.5 380.0L130.0 384.8L132.5 389.1L135.0 393.0L137.5 396.6L140.0 399.8L142.5 402.9L145.0 405.7L147.5 408.3L150.0 410.8L152.5 413.1L155.0 415.3L157.5 417.4L160.0 419.4L162.5 421.3L165.0 423.1L167.5 424.9L170.0 426.5L172.5 428.1L175.0 429.7L177.6 431.2L180.1 432.6L182.6 434.0L185.1 435.3L187.6 436.6L190.1 437.9L192.6 439.1L195.1 440.3L197.6 441.4L200.1 442.5L202.6 443.6L205.1 444.7L207.6 445.7L210.1 446.7L212.6 447.7L215.1 448.7L217.6 449.6L220.1 450.5L222.6 451.4L225.1 452.3L227.6 453.2L230.1 454.0L232.6 454.8L235.1 455.6L237.6 456.4L240.1 457.2L242.6 458.0L245.1 458.7L247.6 459.5L250.1 460.2L252.6 460.9L255.1 461.6L257.6 462.3L260.1 463.0L262.6 463.6L265.1 464.3L267.6 464.9L270.1 465.6L272.6 466.2L275.1 466.8L277.6 467.4L280.1 468.0L282.6 468.6L285.1 469.2L287.6 469.7L290.1 470.3L292.6 470.8L295.1 471.4L297.6 471.9L300.1 472.5L302.6 473.0L305.1 473.5L307.6 474.0L310.1 474.5L312.6 475.0L315.1 475.5L317.6 476.0L320.2 476.5L322.7 477.0L325.2 477.5L327.7 477.9L330.2 478.4L332.7 478.8L335.2 479.3L337.7 479.7L340.2 480.2L342.7 480.6L345.2 481.0L347.7 481.5L350.2 481.9L352.7 482.3L355.2 482.7L357.7 483.1L360.2 483.5L362.7 483.9L365.2 484.3L367.7 484.7L370.2 485.1L372.7 485.5L375.2 485.9L377.7 486.3L380.2 486.7L382.7 487.0L385.2 487.4L387.7 487.8L390.2 488.1L392.7 488.5L395.2 488.8L397.7 489.2L400.2 489.5L402.7 489.9L405.2 490.2L407.7 490.6L410.2 490.9L412.7 491.3L415.2 491.6L417.7 491.9L420.2 492.2L422.7 492.6L425.2 492.9L427.7 493.2L430.2 493.5L432.7 493.8L435.2 494.2L437.7 494.5L440.2 494.8L442.7 495.1L445.2 495.4L447.7 495.7L450.2 496.0L452.7 496.3L455.2 496.6L457.8 496.9L460.3 496.6L462.8 496.3L465.3 496.0L467.8 495.7L470.3 495.4L472.8 495.1L475.3 494.8L477.8 494.5L480.3 494.2L482.8 493.8L485.3 493.5L487.8 493.2L490.3 492.9L492.8 492.6L495.3 492.2L497.8 491.9L500.3 491.6L502.8 491.3L505.3 490.9L507.8 490.6L510.3 490.2L512.8 489.9L515.3 489.5L517.8 489.2L520.3 488.8L522.8 488.5L525.3 488.1L527.8 487.8L530.3 487.4L532.8 487.0L535.3 486.7L537.8 486.3L540.3 485.9L542.8 485.5L545.3 485.1L547.8 484.7L550.3 484.3L552.8 483.9L555.3 483.5L557.8 483.1L560.3 482.7L562.8 482.3L565.3 481.9L567.8 481.5L570.3 481.0L572.8 480.6L575.3 480.2L577.8 479.7L580.3 479.3L582.8 478.8L585.3 478.4L587.8 477.9L590.3 477.5L592.8 477.0L595.3 476.5L597.9 476.0L600.4 475.5L602.9 475.0L605.4 474.5L607.9 474.0L610.4 473.5L612.9 473.0L615.4 472.5L617.9 471.9L620.4 471.4L622.9 470.8L625.4 470.3L627.9 469.7L630.4 469.2L632.9 468.6L635.4 468.0L637.9 467.4L640.4 466.8L642.9 466.2L645.4 465.6L647.9 464.9L650.4 464.3L652.9 463.6L655.4 463.0L657.9 462.3L660.4 461.6L662.9 460.9L665.4 460.2L667.9 459.5L670.4 458.7L672.9 458.0L675.4 457.2L677.9 456.4L680.4 455.6L682.9 454.8L685.4 454.0L687.9 453.2L690.4 452.3L692.9 451.4L695.4 450.5L697.9 449.6L700.4 448.7L702.9 447.7L705.4 446.7L707.9 445.7L710.4 444.7L712.9 443.6L715.4 442.5L717.9 441.4L720.4 440.3L722.9 439.1L725.4 437.9L727.9 436.6L730.4 435.3L732.9 434.0L735.4 432.6L738.0 431.2L740.5 429.7L743.0 428.1L745.5 426.5L748.0 424.9L750.5 423.1L753.0 421.3L755.5 419.4L758.0 417.4L760.5 415.3L763.0 413.1L765.5 410.8L768.0 408.3L770.5 405.7L773.0 402.9L775.5 399.8L778.0 396.6L780.5 393.0L783.0 389.1L785.5 384.8L788.0 380.0L790.5 374.6L793.0 368.3L795.5 360.8L798.0 351.7L800.5 340.0L802.0 330.8L803.0 323.4L803.0 323.4L804.0 314.3L805.0 302.6L805.5 295.1L806.0 286.0L806.5 274.3L807.0 266.3L807.2 266.3L807.5 266.3L807.6 266.3L807.8 266.3L807.9 266.3L808.0 266.3L808.0 266.3L808.0 266.3L810.0 265.3L105.5 265.3z" fill-rule="evenodd" fill="url(#ogC)"/>
<path d="M105.5 269.3H810.0V503.8H105.5zM107.5 266.3L107.5 266.3L107.5 266.3L107.6 266.3L107.7 266.3L107.8 266.3L108.0 266.3L108.2 266.3L108.5 266.3L109.0 274.3L109.5 286.0L110.0 295.1L110.5 302.6L111.5 314.3L112.5 323.4L112.5 323.4L113.5 330.8L115.0 340.0L117.5 351.7L120.0 360.8L122.5 368.3L125.0 374.6L127.5 380.0L130.0 384.8L132.5 389.1L135.0 393.0L137.5 396.6L140.0 399.8L142.5 402.9L145.0 405.7L147.5 408.3L150.0 410.8L152.5 413.1L155.0 415.3L157.5 417.4L160.0 419.4L162.5 421.3L165.0 423.1L167.5 424.9L170.0 426.5L172.5 428.1L175.0 429.7L177.6 431.2L180.1 432.6L182.6 434.0L185.1 435.3L187.6 436.6L190.1 437.9L192.6 439.1L195.1 440.3L197.6 441.4L200.1 442.5L202.6 443.6L205.1 444.7L207.6 445.7L210.1 446.7L212.6 447.7L215.1 448.7L217.6 449.6L220.1 450.5L222.6 451.4L225.1 452.3L227.6 453.2L230.1 454.0L232.6 454.8L235.1 455.6L237.6 456.4L240.1 457.2L242.6 458.0L245.1 458.7L247.6 459.5L250.1 460.2L252.6 460.9L255.1 461.6L257.6 462.3L260.1 463.0L262.6 463.6L265.1 464.3L267.6 464.9L270.1 465.6L272.6 466.2L275.1 466.8L277.6 467.4L280.1 468.0L282.6 468.6L285.1 469.2L287.6 469.7L290.1 470.3L292.6 470.8L295.1 471.4L297.6 471.9L300.1 472.5L302.6 473.0L305.1 473.5L307.6 474.0L310.1 474.5L312.6 475.0L315.1 475.5L317.6 476.0L320.2 476.5L322.7 477.0L325.2 477.5L327.7 477.9L330.2 478.4L332.7 478.8L335.2 479.3L337.7 479.7L340.2 480.2L342.7 480.6L345.2 481.0L347.7 481.5L350.2 481.9L352.7 482.3L355.2 482.7L357.7 483.1L360.2 483.5L362.7 483.9L365.2 484.3L367.7 484.7L370.2 485.1L372.7 485.5L375.2 485.9L377.7 486.3L380.2 486.7L382.7 487.0L385.2 487.4L387.7 487.8L390.2 488.1L392.7 488.5L395.2 488.8L397.7 489.2L400.2 489.5L402.7 489.9L405.2 490.2L407.7 490.6L410.2 490.9L412.7 491.3L415.2 491.6L417.7 491.9L420.2 492.2L422.7 492.6L425.2 492.9L427.7 493.2L430.2 493.5L432.7 493.8L435.2 494.2L437.7 494.5L440.2 494.8L442.7 495.1L445.2 495.4L447.7 495.7L450.2 496.0L452.7 496.3L455.2 496.6L457.8 496.9L460.3 496.6L462.8 496.3L465.3 496.0L467.8 495.7L470.3 495.4L472.8 495.1L475.3 494.8L477.8 494.5L480.3 494.2L482.8 493.8L485.3 493.5L487.8 493.2L490.3 492.9L492.8 492.6L495.3 492.2L497.8 491.9L500.3 491.6L502.8 491.3L505.3 490.9L507.8 490.6L510.3 490.2L512.8 489.9L515.3 489.5L517.8 489.2L520.3 488.8L522.8 488.5L525.3 488.1L527.8 487.8L530.3 487.4L532.8 487.0L535.3 486.7L537.8 486.3L540.3 485.9L542.8 485.5L545.3 485.1L547.8 484.7L550.3 484.3L552.8 483.9L555.3 483.5L557.8 483.1L560.3 482.7L562.8 482.3L565.3 481.9L567.8 481.5L570.3 481.0L572.8 480.6L575.3 480.2L577.8 479.7L580.3 479.3L582.8 478.8L585.3 478.4L587.8 477.9L590.3 477.5L592.8 477.0L595.3 476.5L597.9 476.0L600.4 475.5L602.9 475.0L605.4 474.5L607.9 474.0L610.4 473.5L612.9 473.0L615.4 472.5L617.9 471.9L620.4 471.4L622.9 470.8L625.4 470.3L627.9 469.7L630.4 469.2L632.9 468.6L635.4 468.0L637.9 467.4L640.4 466.8L642.9 466.2L645.4 465.6L647.9 464.9L650.4 464.3L652.9 463.6L655.4 463.0L657.9 462.3L660.4 461.6L662.9 460.9L665.4 460.2L667.9 459.5L670.4 458.7L672.9 458.0L675.4 457.2L677.9 456.4L680.4 455.6L682.9 454.8L685.4 454.0L687.9 453.2L690.4 452.3L692.9 451.4L695.4 450.5L697.9 449.6L700.4 448.7L702.9 447.7L705.4 446.7L707.9 445.7L710.4 444.7L712.9 443.6L715.4 442.5L717.9 441.4L720.4 440.3L722.9 439.1L725.4 437.9L727.9 436.6L730.4 435.3L732.9 434.0L735.4 432.6L738.0 431.2L740.5 429.7L743.0 428.1L745.5 426.5L748.0 424.9L750.5 423.1L753.0 421.3L755.5 419.4L758.0 417.4L760.5 415.3L763.0 413.1L765.5 410.8L768.0 408.3L770.5 405.7L773.0 402.9L775.5 399.8L778.0 396.6L780.5 393.0L783.0 389.1L785.5 384.8L788.0 380.0L790.5 374.6L793.0 368.3L795.5 360.8L798.0 351.7L800.5 340.0L802.0 330.8L803.0 323.4L803.0 323.4L804.0 314.3L805.0 302.6L805.5 295.1L806.0 286.0L806.5 274.3L807.0 266.3L807.2 266.3L807.5 266.3L807.6 266.3L807.8 266.3L807.9 266.3L808.0 266.3L808.0 266.3L808.0 266.3L810.0 265.3L105.5 265.3z" fill-rule="evenodd" fill="url(#ogCh)"/>
<path d="M107.5 266.3L107.5 266.3L107.5 266.3L107.6 266.3L107.7 266.3L107.8 266.3L108.0 266.3L108.2 266.3L108.5 266.3L109.0 274.3L109.5 286.0L110.0 295.1L110.5 302.6L111.5 314.3L112.5 323.4L112.5 323.4L113.5 330.8L115.0 340.0L117.5 351.7L120.0 360.8L122.5 368.3L125.0 374.6L127.5 380.0L130.0 384.8L132.5 389.1L135.0 393.0L137.5 396.6L140.0 399.8L142.5 402.9L145.0 405.7L147.5 408.3L150.0 410.8L152.5 413.1L155.0 415.3L157.5 417.4L160.0 419.4L162.5 421.3L165.0 423.1L167.5 424.9L170.0 426.5L172.5 428.1L175.0 429.7L177.6 431.2L180.1 432.6L182.6 434.0L185.1 435.3L187.6 436.6L190.1 437.9L192.6 439.1L195.1 440.3L197.6 441.4L200.1 442.5L202.6 443.6L205.1 444.7L207.6 445.7L210.1 446.7L212.6 447.7L215.1 448.7L217.6 449.6L220.1 450.5L222.6 451.4L225.1 452.3L227.6 453.2L230.1 454.0L232.6 454.8L235.1 455.6L237.6 456.4L240.1 457.2L242.6 458.0L245.1 458.7L247.6 459.5L250.1 460.2L252.6 460.9L255.1 461.6L257.6 462.3L260.1 463.0L262.6 463.6L265.1 464.3L267.6 464.9L270.1 465.6L272.6 466.2L275.1 466.8L277.6 467.4L280.1 468.0L282.6 468.6L285.1 469.2L287.6 469.7L290.1 470.3L292.6 470.8L295.1 471.4L297.6 471.9L300.1 472.5L302.6 473.0L305.1 473.5L307.6 474.0L310.1 474.5L312.6 475.0L315.1 475.5L317.6 476.0L320.2 476.5L322.7 477.0L325.2 477.5L327.7 477.9L330.2 478.4L332.7 478.8L335.2 479.3L337.7 479.7L340.2 480.2L342.7 480.6L345.2 481.0L347.7 481.5L350.2 481.9L352.7 482.3L355.2 482.7L357.7 483.1L360.2 483.5L362.7 483.9L365.2 484.3L367.7 484.7L370.2 485.1L372.7 485.5L375.2 485.9L377.7 486.3L380.2 486.7L382.7 487.0L385.2 487.4L387.7 487.8L390.2 488.1L392.7 488.5L395.2 488.8L397.7 489.2L400.2 489.5L402.7 489.9L405.2 490.2L407.7 490.6L410.2 490.9L412.7 491.3L415.2 491.6L417.7 491.9L420.2 492.2L422.7 492.6L425.2 492.9L427.7 493.2L430.2 493.5L432.7 493.8L435.2 494.2L437.7 494.5L440.2 494.8L442.7 495.1L445.2 495.4L447.7 495.7L450.2 496.0L452.7 496.3L455.2 496.6L457.8 496.9L460.3 496.6L462.8 496.3L465.3 496.0L467.8 495.7L470.3 495.4L472.8 495.1L475.3 494.8L477.8 494.5L480.3 494.2L482.8 493.8L485.3 493.5L487.8 493.2L490.3 492.9L492.8 492.6L495.3 492.2L497.8 491.9L500.3 491.6L502.8 491.3L505.3 490.9L507.8 490.6L510.3 490.2L512.8 489.9L515.3 489.5L517.8 489.2L520.3 488.8L522.8 488.5L525.3 488.1L527.8 487.8L530.3 487.4L532.8 487.0L535.3 486.7L537.8 486.3L540.3 485.9L542.8 485.5L545.3 485.1L547.8 484.7L550.3 484.3L552.8 483.9L555.3 483.5L557.8 483.1L560.3 482.7L562.8 482.3L565.3 481.9L567.8 481.5L570.3 481.0L572.8 480.6L575.3 480.2L577.8 479.7L580.3 479.3L582.8 478.8L585.3 478.4L587.8 477.9L590.3 477.5L592.8 477.0L595.3 476.5L597.9 476.0L600.4 475.5L602.9 475.0L605.4 474.5L607.9 474.0L610.4 473.5L612.9 473.0L615.4 472.5L617.9 471.9L620.4 471.4L622.9 470.8L625.4 470.3L627.9 469.7L630.4 469.2L632.9 468.6L635.4 468.0L637.9 467.4L640.4 466.8L642.9 466.2L645.4 465.6L647.9 464.9L650.4 464.3L652.9 463.6L655.4 463.0L657.9 462.3L660.4 461.6L662.9 460.9L665.4 460.2L667.9 459.5L670.4 458.7L672.9 458.0L675.4 457.2L677.9 456.4L680.4 455.6L682.9 454.8L685.4 454.0L687.9 453.2L690.4 452.3L692.9 451.4L695.4 450.5L697.9 449.6L700.4 448.7L702.9 447.7L705.4 446.7L707.9 445.7L710.4 444.7L712.9 443.6L715.4 442.5L717.9 441.4L720.4 440.3L722.9 439.1L725.4 437.9L727.9 436.6L730.4 435.3L732.9 434.0L735.4 432.6L738.0 431.2L740.5 429.7L743.0 428.1L745.5 426.5L748.0 424.9L750.5 423.1L753.0 421.3L755.5 419.4L758.0 417.4L760.5 415.3L763.0 413.1L765.5 410.8L768.0 408.3L770.5 405.7L773.0 402.9L775.5 399.8L778.0 396.6L780.5 393.0L783.0 389.1L785.5 384.8L788.0 380.0L790.5 374.6L793.0 368.3L795.5 360.8L798.0 351.7L800.5 340.0L802.0 330.8L803.0 323.4L803.0 323.4L804.0 314.3L805.0 302.6L805.5 295.1L806.0 286.0L806.5 274.3L807.0 266.3L807.2 266.3L807.5 266.3L807.6 266.3L807.8 266.3L807.9 266.3L808.0 266.3L808.0 266.3L808.0 266.3" fill="none" stroke="#000" stroke-width="2" stroke-linejoin="round"/></g>
<g clip-path="url(#cD)"><defs><linearGradient id="ogDh" x1="0" y1="0" x2="1" y2="0"><stop offset="0" stop-color="#fff" stop-opacity="0.10"/><stop offset="0.2" stop-color="#fff" stop-opacity="0"/><stop offset="0.8" stop-color="#fff" stop-opacity="0"/><stop offset="1" stop-color="#fff" stop-opacity="0.10"/></linearGradient></defs>
<defs><linearGradient id="ogD" x1="0" y1="0" x2="0" y2="1" gradientUnits="objectBoundingBox"><stop offset="-0.003" stop-color="#cbcbcb"/><stop offset="0.556" stop-color="#cccbcb"/><stop offset="0.816" stop-color="#cfc9c6"/><stop offset="0.954" stop-color="#d2c6c0"/><stop offset="0.976" stop-color="#d6bcad"/><stop offset="1.002" stop-color="#d8b7a5"/></linearGradient></defs>
<rect x="1008.5" y="270.8" width="702.5" height="232.7" fill="#07356b"/>
<path fill="#2166ac" d="M1008 270.3l5 0 .4 10 .7 3 .3 6 .7 2 .3 5 .7 2 1.2 9 .8 2 1.4 7.9 6 20 7.9 17 7 11 10.9 13 12.7 11.5 14 9.7 4.9 -2.3 9.2 -5.8 13 -10 3 -5.7 1.3 -7.4 1.1 -3 8.8 -18 6 -6 2.8 -1.3 6 -.5 1 -1.2 1.4 -4 2.3 -15 2.6 -11.9 -.5 -12 .5 -11 .6 -7 1.1 -3.5 1.1 1.5 1.1 10 0 20 -.9 9.9 6.4 28 3.1 10 1.2 3 1.5 2 1.5 -.1 1.3 -1.9 5.7 -13.8 6.3 -9.2 5.1 -10 2.9 -10 6.9 -29.9 .6 -7 1.8 -4 0 -2 .9 0 0 2 .8 1 1.1 5 .8 11 -.4 6 1.2 8.4 1 2 2 -2.2 1 -.3 1.3 1.1 1 3 .2 5.9 -2.9 10 2.6 14 .8 1.4 1 -1.3 2.6 -10.1 2.2 -6 2.2 -3.4 2 -.8 2.1 1.2 2.1 4 .5 2 -2 2 -1.3 5 -.1 5 1.2 5 1.5 1.6 1 -.1 1.3 -1.5 1.7 -4.7 1.9 4.7 1.2 -.7 2.1 -11.3 1.1 -13 -.5 -23.9 .8 -11 .9 -6 1.5 -3 .3 -2 0 2 .8 .3 1.3 2.7 .8 6 1.1 17 -.7 11.9 .2 7 2.1 25 1.3 9 -.6 3 .5 3.1 1 1.3 1 .2 1 -.6 .6 -2 .2 -4 5.8 -7 1.7 -4 1.8 -9 1 -9 2.2 -26.9 -.3 -3 -1 2 -1 .4 -1.1 -1.4 -1.1 -5 0 -4 .9 -5 1.3 -1.9 1.2 .9 1.8 6.9 1.6 -9.9 1.4 -1.6 1.2 2.6 .9 10 .7 28.9 2 17 2 8 2.2 2.4 15.4 11.6 5.6 10.6 5 4.8 4 2.6 5 2.1 5 .7 4 -.6 2 -1.1 5 -5.4 4.1 -6.7 3.8 -9 6.4 -12 2 -6 2 -9 3.7 -20.9 1 -1.5 1 .4 1.2 3.1 .8 .8 1 0 2.4 -2.8 2.8 -6 .7 -15 .8 -6 1.3 -2.8 1.3 .8 1.2 5 .4 18 .6 2 1.5 1.5 1 -.1 2 -1.7 1 -.1 1 .8 2.1 4.6 3.7 11.9 3.3 6.9 7.6 11.1 3.4 2.4 1 -.3 .8 -1.1 2.6 -5 3.8 -14 3 -15.9 0 -13 .6 -8 1.9 -7 1.3 -.9 1 .3 2.4 5.6 .7 4 1.5 16 1.9 10.9 3.1 10 5.1 13 6.3 6.5 7 3.4 3 3.1 2.2 5 1.6 11 3.2 5.1 3 1.7 3 .3 7 -2.9 5.7 -5.2 4 -7 3.2 -4 4.1 -4.1 5.3 -3.9 2.2 -4 1.7 -8 1 -14 -.7 -25.9 1.1 -12 1.2 -3 3 -3 0 -2 5.7 0 0 2 1.5 1 2.2 3 1.3 8 .3 30.9 -.6 11 -1.9 11 0 6 .5 3 3 7 5.8 8 3.4 2.3 3.1 .1 23 -11.3 3.1 -3.1 2.2 -3 3.1 -9 .6 -4.1 1 -1.9 2.9 9 1.9 4 5 7 3.3 3 .8 2 -.9 1.7 -2 1.5 -11.8 5.8 -2.2 1.6 -.8 1.4 .8 1.5 4 1.7 9 1.3 5 1.6 25 18.3 8 4.6 19 6.4 9 1.9 6 .4 7 -.4 4 -1.1 13.1 -5.1 6 -3.7 8 -5.9 9 -7.9 7.4 -7.6 7.2 -9 9.1 -15 3.7 -8 4.2 -11 3.9 -14 3.1 -14.9 3 -22 .4 -10 5 0 0 233.7 -703.5 0zM1140.1 376.1l-1.5 1.1 .2 2 1.3 .7 2 -.3 1.1 -1.4 -.3 -1 -1.4 -1zM1195.1 351.7l-1.4 1.5 -.3 2 .7 2.8 1 1.2 1 .3 1 -.6 1 -1.7 .2 -3 -1.2 -2.1zM1220.2 368.1l-1.2 1.1 -.3 2 .5 1 2 .6 1 -.6 .6 -2 -1.4 -2zM1266.2 359.1l-4 1.7 -2.5 2.4 -1.4 3 .9 2.3 2 .9 3 -.6 3 -1.5 2.2 -2.1 1.1 -2 -.3 -3 -2 -1.1zM1358.2 349.9l-1.2 2.3 -.2 3 1.1 3 1.3 1 1.1 -.3 1.4 -1.7 .2 -5 -1.6 -2.5zM1382.3 346.1l-1 .3 -.5 .8 -.3 2 .5 2 1.3 .5 1.4 -2.5 -.4 -2zM1570.4 401.8l-1.3 1.3 .4 1 3.9 2.1 5 .4 1.6 -.5 .8 -1 -1.1 -2 -2.3 -1.2 -4 -.6zM1357.2 369l-.5 2.2 1 1 1.5 .4 2.2 -1.4 .1 -1 -1.2 -1.5zM1330.2 274.3l1 -.1 .6 1.1 .8 4 .4 6 -.3 6 -1.5 5.6 -1 0 -.4 -.6 -1.1 -6 .1 -11zM1167.2 276.3l.9 -1 1 .3 1.1 1.7 1 7 -.8 8 -1.1 2 -1.2 .3 -1.2 -1.3 -1 -5 .1 -8zM1176.4 276.3l.7 -.7 .6 .7 .9 4 0 8 -1.5 4.2 -1.3 -2.2 -.5 -5 .4 -7zM1135 277.3l1.1 -.5 .3 .5 .8 3 .4 5 -.3 10 -1.2 3.9 -1.3 -.9 -.9 -8 0 -5zM1412.9 278.3l1.5 0 1.1 3 .9 6 .4 9 -.3 9 -1 5.9 -.9 3 -1.3 .8 -1.3 -1.8 -.8 -3.9 -.7 -9 .6 -16 .7 -4zM1366.1 279.3l.2 -.4 1 .7 .4 1.7 .8 13 -.9 13 -.3 1.2 -1 .4 -1.5 -8.6 0 -14zM1336 282.3l1.2 -.6 .5 .6 1 6 -.3 7 -1.2 3.1 -1 -.3 -.3 -.8 -.4 -3 0 -8zM1371.2 283.3l1.1 -.9 .6 1.9 0 4 -.6 1.2 -1.2 -1.2zM1518.9 283.3l.5 0 .6 2 .5 7 -.4 6 -.7 2.6 -1.1 -.6 -.7 -7 .4 -8 .4 -1.8zM1426.8 284.3l.5 -.4 .2 .4 .6 4 -.1 12 -.7 3.7 -1 -1.2 -.5 -4.5 0 -9 .4 -4zM1435 284.3l.3 -.5 1.2 .5 .6 4 -.8 3.9 -1 .1 -.8 -3zM1521.2 304.3l2.1 1 1.5 3 1.8 9.9 0 8 -1 7 -1.8 5 -1.4 1.4 -1 .1 -1 -.2 -1.1 -1.3 -1.3 -3 -1.1 -5 -.7 -8 1.7 -12.9 1.2 -3zM1539 313.2l1.4 -.7 1.1 2.7 0 5 -1.1 3.4 -1.2 -.4 -1 -4zM1439 316.2l1.3 .2 1.4 1.8 .8 2 .6 5 -.1 5 -.7 4 -1.5 3 -1.5 .7 -1.2 -.7 -1.1 -2 -1.2 -6 0 -5 .8 -4 1.2 -3z"/>
<path fill="#307ab6" d="M1008 270.3l3.8 0 .2 10.5 2 20 2 13.4 3 14.1 6 18.6 6.8 14.3 5.1 8 5.1 6.8 6 6.8 6.6 6.3 15.4 12 18.1 10.6 1 -.6 2 -4.4 8 -7.6 5 -6 2 -3.2 2 -5.7 2.6 -17 2.4 -5.3 3 -4.1 8 -6.3 3 -1.1 7 -1 2 -.9 5 -6.4 2 -1 1 .1 2 1.1 2.3 2.9 2.7 7.7 3.9 8.3 1.1 1.2 2 .1 9 -11.3 9 -13.2 2 -4.5 1.1 -6.3 1.9 -2.4 2 0 1.3 1.4 3.1 8 5.1 23 3.5 4.9 2 1.4 2 .4 2.2 -.7 3.2 -3 3.6 -6.6 4 -2 4 -1.2 5.1 .2 5 1.3 3 1.7 5 6.2 3 -.3 2 -1.3 .4 -5 1.6 -2.1 6 -3.3 4 -.3 5 2.4 1.6 2.3 .7 2 0 3 -.9 3 -3.8 7 .8 2 3.3 3 4.3 2 6.2 2 30.8 5.4 5 .2 4.6 -.6 5.6 -3 7.5 -7 5.9 -7 4.4 -7.4 9.7 -25.6 3.8 -7 1.5 -.8 1.4 .8 1 2 2.1 10 .5 8 -.6 11 .6 10.1 4 12 1.9 2.9 2.2 .9 3 -.1 5.2 -2.8 14.8 -17.7 4 -3.4 4 -1.5 5 1.3 8 4.5 10 3.5 4 2.4 7 6 5.7 2.9 6.3 1.6 6 -.5 3 1.1 1 -.1 1 -1.4 .7 -3.7 4.3 -5 7.8 -12 5.4 -7 4.8 -4.4 4 -1 3 1 2.9 2.4 2.8 4 7.3 13 2.8 3 4.2 3.1 13.1 6.5 6 1.8 12 2.2 20 7.8 4.4 3.5 6.3 8 6.1 6 5.3 4 5.1 3 9.5 4 7.3 2.1 5 1.1 9 .3 6 -.9 10.2 -4.6 13.5 -7 12.8 -8 9.3 -7 8.3 -7.3 8 -8.6 6.1 -8 4.9 -7.7 4 -7.7 4 -9.5 3 -8.9 3 -11.3 3 -16.1 3 -27.2 .2 -10.5 3.8 0 0 233.7 -703.5 0zM1097.1 409.8l-3 2 -1 2.4 10 4.3 2 -2.7 0 -1.7 -1 -2.1 -3 -2.4zM1136.1 373.1l-2.4 1.1 -.9 2 .3 1.4 2.1 2.6 3.4 2 4 1 2.5 -.1 3 -1.5 .6 -1.4 -.5 -2 -3 -3 -5.2 -2zM1219.1 366.1l-2.4 2.1 -.6 2 .4 2 .6 1.1 2 1.5 3.1 0 2 -1.4 .6 -1.2 .2 -3 -1.2 -2 -1.6 -1zM1231.2 378.8l-1.3 1.4 .3 2.2 1.7 1.8 2.3 -.1 1.7 -1.9 0 -2 -1.7 -1.7zM1270.2 388l-2 1.1 -.6 1 .6 1.5 3 .8 2.6 -1.3 .4 -1.2 -1 -1.6zM1400.3 375.9l-.8 1.3 .8 1.1 3 .1 1 -1.2 -1 -1.5 -1 -.3zM1434.3 388.1l-1.4 1 -.2 1 .5 1 2.1 .6 1 -.3 .9 -1.3 -.3 -1 -1.4 -1zM1498.3 374l-1 .5 -.9 1.7 .9 1.5 1 .3 1 -.3 1 -1.5 -.9 -2zM1523.4 389.8l-.7 .3 1.7 .5 1.4 -.5zM1195.9 305.3l1.2 -.7 1 1.3 .7 4.3 -.7 5.2 -1 2 -1 .1 -1.4 -2.3 -.4 -3 .1 -3.9zM1391.9 308.3l1.4 -.8 1.4 .8 1.2 4.9 -.5 8 -1.1 2 -1 .4 -1.8 -1.4 -.9 -5 0 -4z"/>
<path fill="#3a88bd" d="M1008 270.3l3.7 0 .3 16.7 1 10.9 2 15.6 3 15.3 6 19.5 7 14.9 5 8 6 7.9 6 6.6 6.9 6.4 8.1 6.6 7.9 5.4 18.2 10.3 2.8 -7.3 8.2 -7.8 6.5 -8.2 2.2 -5.9 1.3 -14 .9 -4 2.1 -4.6 3 -4 6 -5.2 3 -1.7 11 -2.4 2.2 -2.1 2.8 -4.1 1.1 -.9 1.9 -.2 2 1.3 1.5 1.9 3.3 9 3.9 8 1.3 1.1 2 0 2 -1.6 8.1 -10.5 8.1 -12 2.3 -5 1.3 -7 1.2 -1.5 1 -.4 1.5 .9 3.1 8 3.1 15 2.6 9 2.7 4 3 2.4 3 .4 3 -1.5 2.3 -2.3 2.7 -6.4 2 -1.5 4 -1.7 5.1 -.6 7 1.6 2.6 1.6 4.4 5.4 3 .7 2 -.3 1.2 -.8 .8 -2 .2 -4 1.8 -2 5 -2.6 4 -.3 4.2 1.9 1.7 2 .8 2 0 3 -1.3 4 -3.5 6 .7 2 3.4 3.2 6 2.9 4 1.3 32 6 5 .2 6 -1.2 4 -2.4 16 -14.9 1 -.2 2 1.5 1 -.4 2 -3.7 .9 -3.3 0 -1 -1.9 -1 -.2 -1 1.2 -6.6 6.2 -16.4 3.8 -7 1 -.6 1 .9 1 2.7 2.1 12 .1 6 -.9 8 .8 11 3.9 11.5 2 3.5 2.1 1.3 2 .5 3 -.4 5 -2.9 14 -16.7 3 -2.7 3 -1.3 10 2.6 15 5.1 4 2.4 6 5.4 6 3.2 6 1.6 7 -.3 2.6 1.2 1.4 0 1.7 -2 1 -4 3.6 -4 7.9 -12 6 -8 4.8 -4.2 4 -.4 3 1.6 1.9 2 9.1 16.3 6.8 6.7 .2 1 -2 1.7 -.9 2.3 .8 2 1.1 .7 1 .2 2.1 -.8 2 -4 1 .2 5.4 2.7 7.6 2.5 14 2.5 5.6 2 14.5 5.9 3.5 3 6 7 6.4 6.4 5 3.9 5 3 9 4 11 3.3 15 2.2 11 -4.6 12.6 -6.2 10.5 -6 10.4 -7 8.7 -7 7.9 -7.4 7 -8.1 6 -8.4 4.1 -7 3.9 -8 4 -10.4 3 -10 3 -13.4 3 -21.5 1 -10.9 .3 -16.7 3.7 0 0 233.7 -703.5 0zM1097.1 408.7l-2.7 1.4 -1.9 2 -.8 2 .4 1.5 9 4.5 2.6 -1 2 -3 .1 -2 -.8 -2 -2.9 -3.2 -2 -.5zM1134.1 373.1l-2 2.1 0 2 2 3 2.6 2 3.4 1.2 4 .6 3 -.8 2 -1.8 .4 -1.2 -.5 -2 -1.9 -2.3 -2.5 -1.7 -6.5 -1.8zM1220.2 365l-2.1 .5 -2.1 1.7 -.8 2 0 2 .7 2 1.2 1.4 2 1.1 2.1 .2 2 -.5 1.5 -1.2 1.1 -2 .2 -2 -.5 -2 -1.3 -1.8 -2 -1.1zM1231.2 377.7l-2.4 2.5 .3 2 2.1 2.5 3 .2 2 -1.7 .6 -3 -.6 -1.3 -2 -1.3zM1270.2 387l-3 2.1 -.4 1 .4 1.6 3 1.4 3.6 -1 1.2 -2 -.5 -2 -2.3 -1.3zM1281.2 418.9l-.6 1.2 1.2 1 2.2 0 1.3 -1 -.4 -1 -.7 -.3zM1298.2 396.7l-.5 .4 .5 1.4 2 .3 1.3 -.7 0 -1 -1.3 -.7zM1357.2 412.1l1 1.1 1.1 -.1 .7 -1 -1.8 -.4zM1400.3 374.9l-1.6 1.3 -.3 1 .9 1.5 2 .8 3 -.8 .8 -1.5 -.8 -1.8 -2 -.8zM1433.3 387.8l-1.4 1.3 -.2 1 .6 1.4 2 1.1 3 -.7 .9 -1.8 -.9 -1.8 -2 -.9zM1521.4 389.1l-.8 1 .6 1 2.2 .8 3 -.4 .9 -.4 .4 -1 -.6 -1 -1.7 -.6zM1196.7 305.3l.6 0 .8 1.8 .4 3.1 -.4 4 -1 2.4 -1.2 -.4 -1 -4 .1 -3.9zM1392.3 309.3l1 -.7 1 .7 .8 4.9 -.5 7 -1.3 1.4 -1.3 -1.4 -.6 -4 0 -3z"/>
<path fill="#4796c4" d="M1008 270.3l3.5 0 .5 20 .8 4 .2 8.5 2 15.4 3 14.8 6 19 4 9 4 7.1 6 8.8 6 7.3 7 7.1 8 6.8 8.3 6 9.7 6.1 11.1 5.9 3 .2 3 2.7 5 2.1 3 -.5 2.4 -1.5 1.6 -2.2 .3 -2.8 -4.3 -7.6 -2 -.7 -3 .2 -.4 -.9 8.4 -9.3 1 -.7 2 .3 1 -.5 2 -3.6 .7 -4.1 -1 -4 -.5 -7 .4 -6 1.4 -4.7 3.2 -5.3 6.6 -6 3.2 -2 11 -2.2 2.3 -1.8 3.7 -5 2 -.3 3 2.8 2.5 7.5 4.4 9 2.1 1.9 3 -.4 8 -9.3 2 -1.5 8 -3.7 2.4 -2 .6 -2 -.5 -1 -2.5 -1.2 -.4 -.8 2.7 -8 .8 -6 .9 -1.6 1 -.5 1.3 1.1 2.7 7.5 1.3 10.5 4 13 7.7 10.9 5.4 3.1 8.6 1.1 4 2.7 3.1 1.1 4 -.1 2.4 -2.8 .6 -3 -.2 -2 -1.8 -3.4 -3 -1.5 -5.1 -.5 -3 -.9 -5.2 -2.7 -.3 -2 .5 -2.2 1.7 -1.8 2.3 -1.1 3 -1.2 3 -.3 7.1 1.2 3 1.5 5 6.1 1 .6 3 .2 2 -.6 1 -1 .8 -6.4 2.2 -1.9 4 -2 2 -.4 3 .4 3 1.4 2 2.8 .4 2.7 -1.4 4.5 -3.3 5.5 -.2 2 .5 1 2 2.2 3 2.2 7 3.1 8 2.5 .8 1 -3.5 5 -3.3 2.2 -2 2.7 1 2.4 3 1.1 2 -.1 2.4 -1.4 1 -2 .6 -3.5 8 -.3 3 -.7 1.8 -1.4 .5 -2 3.7 -.1 4.2 1.1 1.9 1 0 1 -.8 1 .2 1 1.5 .6 3 .1 3.4 -.7 2 -1 2.4 -3 2.2 -1.3 11 -8.9 1 -.3 4 1 3 -1.5 3 -2.8 2 -2.7 3.3 -7.5 1.5 -7 -2.3 -5 .6 -4 3.9 -11.1 2 -2.6 2 -1.2 2 3.5 1.5 8.4 0 6 -1.1 8 1.3 12 5 13 2.3 2.4 3.1 1.1 5 -.7 4.6 -2.8 6.9 -7 5.5 -7.3 7 -2.1 4 -.5 8 .9 11.4 3 3.6 2 7 6.4 6 2.9 7 1.5 6 -.4 2 1 2 .2 1.9 -1.6 1.1 -4.3 4.4 -4.7 7.6 -11.8 6.1 -8.2 3.9 -3.6 2 -.6 2 .1 2 1 2.3 2.1 9.4 17 5.5 6 .2 1 -1.4 2 -.4 2 .4 1.7 1.3 1.3 1.7 .4 1.8 -.4 2.3 -2.6 1 -.5 7.5 3.1 22.5 6.4 11 5.2 8.9 6.3 4.1 2.3 11 9.9 7 4.5 9 4 16 5.3 4 1.1 7 .5 11.6 -4.6 12.3 -6 11.2 -6.3 10 -6.7 8.8 -7 7.4 -6.9 6.8 -7.7 6.1 -8.3 4.9 -8.3 4 -8.5 4 -10.8 3 -10.6 3 -14.8 2 -15.4 .2 -8.5 .8 -4 .5 -20 3.5 0 0 233.7 -703.5 0zM1136.1 372l-3.1 1.2 -1 1 -.6 2 1.1 3 2.6 2.6 3 1.7 5 1 4 -.7 2.2 -1.6 .6 -3 -1 -2 -1.9 -2 -4.9 -2.5zM1231.2 376.1l-5.3 1.1 -1.1 1 2.4 2.2 3 4.4 2 .9 2 -.2 2.6 -2.3 .9 -3 -1 -2 -1.5 -1.4zM1281.2 417.9l-2 1.9 1 1.6 3 .8 3 -1.2 .2 -1.9 -1.2 -1zM1298.2 395.9l-1.4 1.2 0 1 1.1 1 2.3 .3 2.3 -1.3 0 -1 -1.3 -1.1zM1357.2 410.8l-1.4 1.3 .2 1 1.2 .9 2 .2 2.2 -1.1 .2 -1 -.9 -1 -1.5 -.5zM1401.3 374l-2 .7 -1 .9 -.3 2.6 2.3 1.8 3 0 2.2 -1.8 0 -2 -1.2 -1.5zM1434.3 386.9l-2 .9 -1 1.2 -.1 2.1 2.6 2 2.5 .1 2 -1.5 .3 -2.6 -2.2 -1.9zM1522.4 387.8l-2 1.2 -.5 1.1 .3 1 1.2 .9 4 .4 2.8 -1.3 .4 -1 -1.2 -1.6 -2 -.8zM1196.6 306.3l.7 0 .8 3.9 -1 5.4 -1 -.4 -.5 -3 .2 -3.9zM1393.2 311.2l.8 5 -.7 4.9 -.8 -4.9z"/>
<path fill="#5fa4cc" d="M1008 270.3l3.4 0 .5 20 .8 4 .3 10.8 .7 2.2 1.3 14.7 2 10.5 3 11.5 3 8.8 7 14.9 6 9.3 6 7.6 7 7.3 8 7.1 9 6.5 10.7 6.6 11.4 6 3 -.4 5 3.5 3 .5 4 -1 2 -1.4 1.4 -2.2 .4 -3 -2.2 -5 0 -1 8 -16 4.6 -21.9 .2 -2 -.4 -1 -5 4.4 0 -4.1 2 -4.4 3.3 -3.9 7.1 -6 3.6 -1.3 8 -.9 6 -4.3 3 -.6 1 .8 1 2.2 .3 3.1 -1.4 3 0 2 1.1 1.3 3 1.2 2 2.1 1.8 3.4 -.6 3 .8 1.1 2 -.1 2 -1.3 6.1 -7.7 6.9 -5.3 7 -3.4 4 -.1 2 1 2.1 1.8 9.9 14.1 3 2.9 5.6 3 14.4 4.6 8.1 3.8 3 3 2 .7 2 -.2 1.7 -.9 4.4 -6 .6 -12 .8 -2 2.3 -3 -1.3 -3 -.5 -3 .5 -3 1.5 -1.3 4 -1.9 3 -.2 3 .7 3 2.2 .9 3.5 -1.9 5.2 -2.9 4.8 .2 3 4.7 4.6 7.9 4.4 -.2 4 2.2 3 .1 1 -2.2 2.9 -.3 2 1.5 2 4 .9 3 -.9 1.1 -1 1.3 -3 1.6 -.8 9 .6 12 1.6 8 -1.2 9.8 -4.1 13.2 -9.1 7.8 -7.9 3.6 -8 2 -8 -1.6 -7 .4 -5 2.3 -7 1.5 -1.8 1 -.3 1 .3 1.4 1.8 1.3 7 .1 6 -1.4 8 1.4 11 2.6 8 2.8 6 1.8 2.4 3.1 1.6 5 .6 5.2 -1.6 4.2 -3 13.3 -13 3.3 -1.8 4 -.9 8 1.3 11.9 3.4 2.7 2 2 3 2.1 2 6.3 2.8 8 1.6 7 -.4 4 1.2 2 -1.4 1.8 -4.8 5.6 -6 6.6 -10.6 6.2 -8.4 3 -3 2.8 -.7 2.2 .7 2.8 2.6 8.7 16.4 5.1 6 .4 1 -1.2 4 .6 2 1.4 1.4 3 .4 4.1 -2.4 6 2.3 23 7 12 5.8 15 10.4 9 7.8 6 3.5 8 3.5 19 6.8 11 1.5 12.7 -5.1 12.2 -6 11.2 -6.4 9.8 -6.6 8.2 -6.5 7.7 -7.5 6.3 -7.1 6 -8.4 5 -8.5 4 -8.7 6 -18.7 3 -14.7 1.3 -14.7 .7 -2.2 .3 -10.8 .8 -4 .5 -20 3.4 0 0 233.7 -703.5 0zM1134.1 372l-2 1.3 -1.3 2.9 .9 3 3.4 3.4 5 2.2 4 .3 3 -.7 2.8 -2.2 .6 -2 -.5 -2 -1.3 -2 -2.6 -2.2 -6 -2.3 -3 -.3zM1204.1 396.1l-1.3 1 .3 1 1 .6 2 .3 2.4 -.9 .2 -1 -1.2 -1zM1245.2 425l-1.2 1.1 3.2 1.2 5 -.1 1.7 -1.1 -1.2 -1 -2.5 -.5zM1283.2 417.1l-2 .2 -2 1 -.8 1.8 .8 1.4 2 1 2 .3 2.6 -.7 1.2 -1 .3 -2 -1 -1zM1299.2 395l-2.4 1.1 -.7 1 .1 1.2 1 1 2 .7 3.1 -.9 .8 -1 .1 -1 -.7 -1zM1358.2 410l-2.6 1.1 -.6 1 .2 1.2 1 .9 2 .6 3.1 -.7 1 -1 .1 -1 -.7 -1 -1.4 -.9zM1399.3 373.9l-1.5 1.3 -.8 2 1.3 2.5 2 1 2 .2 3.3 -1.7 .7 -2 -1 -2.4 -3 -1.4zM1433.3 386.6l-2.6 2.5 0 2 .6 1 3 1.7 3.2 -.7 1.6 -2 0 -2 -.6 -1 -2.2 -1.5zM1523.4 387l-2 .5 -1.9 1.6 -.1 1.4 1 1.5 2 .8 3 .1 2 -.5 1.6 -1.3 .1 -2 -1.7 -1.6zM1196.9 310.2l.2 -.8 0 4zM1181.4 328.2l.7 -.6 1 1.9 .9 4.7 -.9 .5 -1 0 -1 -.8zM1218.5 352.2l4.7 .4 5 1.6 2.6 3 .3 2 -.5 1 -3.4 2 -5 .5 -7.1 -1.2 -5.1 -2.3 -.5 -2 1 -2 4 -2z"/>
<path fill="#76b4d5" d="M1008 270.3l3.2 0 .6 21 .9 4 .2 10 .8 3 .2 6.9 .8 3 .3 5.5 2 11.6 5 18 3 7.5 4 8 6 9.5 6 7.7 7 7.4 7.6 6.7 9.6 7 11.5 7 11.4 6 3 .3 3 1.3 4 .7 4 -.7 2.8 -1.6 1.7 -2 .9 -2 0 -2 -1.5 -4 .1 -1.7 8.2 -16.3 4.6 -19.9 5.1 -14 .2 -1 -1.4 -1 2.3 -2 1 -.2 9 .6 4 1.8 5.4 4.8 6.6 9 3 1.5 2 -.3 3 -1.9 3 -3.2 3.5 -5.1 4.6 -4 7.4 -4 2.5 -.6 2 .4 2 1.2 2 2.1 9.9 13.9 6.1 4.2 16.4 5.8 8.4 4 3.3 2.5 2 .4 3 -.5 4 -3.8 6.5 -2.6 6.5 -3.8 7 3.1 6.8 5.7 .7 1 -1.6 3.9 .3 2 1.8 1.7 4 .8 3.8 -1.5 2.2 -3.1 1 -.4 23 2.3 6 -1.1 8 -3.2 4.8 -2.4 8.2 -5.7 11 -9.7 3.9 -2.6 1.8 -2 1.3 -3.8 1 -.9 9.1 19.7 2.9 2.9 4.1 1.8 5 -.1 5 -2.1 4.5 -3.5 12.2 -12 3.3 -1.8 3 -.7 8 1.3 7 2.9 5 2.8 6 5.1 4 1.9 8 1.6 9 -.3 5 1 2.8 -1.8 1.7 -4 5.9 -6 6.6 -11 6.5 -9 2.5 -2.4 2 -.5 3 1.4 3 4.1 6.5 13.4 5.4 7 -.2 5 1.1 2 1.2 .9 3 .4 4.1 -1.1 17.6 5.8 .3 1 -1.9 1.9 -.7 2 1.1 2 2.6 1.2 3 .1 3 -1 1.4 -1.3 .6 -2.8 1 -.1 5.4 1.9 5.6 2.7 7.9 5.3 7.1 5.1 9.2 7.9 5.8 3.6 8 3.6 20 7.3 12 2.7 24.9 -11.2 11.2 -6.3 10.1 -6.7 7.9 -6.1 8 -7.6 7 -8.1 6 -8.5 4 -6.9 4 -8.4 3 -8.1 3 -10.6 3 -16.1 .3 -5.5 .8 -3 .2 -6.9 .8 -3 .2 -10 .9 -4 .6 -21 3.2 0 0 233.7 -703.5 0zM1117.1 431.8l-.9 .3 4.9 1.8 1.1 .2 .5 -1 -2.6 -1.2zM1136.1 371l-4 1.5 -1.8 2.7 -.1 2 .7 2 3.2 3.8 3 1.9 5 1 4 -.4 3.8 -2.3 1 -2 .1 -2 -.9 -2 -2 -2.4 -3 -2 -3 -1.1zM1170.1 411.1l-1.1 1 1.1 1 3 .4 13 -.1 2.2 -.3 1 -1 -2.2 -1.1 -6 -.6 -7 0zM1204.1 395l-2 .9 -.8 1.2 .1 1 1 1 2.7 .9 2 -.1 2 -.7 1 -1.1 .1 -1 -1.1 -1.4 -2 -.8zM1243.2 424l-3.2 1.1 -.9 1 .9 1 3.3 1 5.9 .5 5 -.5 2.1 -1 .5 -1 -1.6 -1.5 -4 -1 -4 -.2zM1281.2 416.8l-2 .9 -1.2 1.4 .1 2 1.1 1.1 2.4 .9 2.6 0 2 -.7 1.5 -1.3 .1 -2 -1.6 -1.6 -2 -.7zM1297.2 395l-1.7 2.1 0 1 1.7 1.7 2 .6 2 -.2 2.6 -2.1 -.3 -2 -2.3 -1.7 -2 -.2zM1356.2 410l-1.8 2.1 .8 2 1 .6 2 .5 2.1 -.2 1.8 -.9 .7 -1 -.3 -2 -1.3 -1 -3 -.6zM1399.3 373.1l-1.9 1.1 -1.6 2 -.3 2 1 2 1.8 1.2 2 .6 3 -.3 2 -1.1 1.1 -1.4 .6 -2 -1.4 -3 -3.3 -1.5zM1433.3 386l-2.7 2.1 -.6 2 .3 1.2 1 1.4 2 1.3 2 .3 2 -.5 2.3 -2.7 -.3 -2.7 -1 -1.2 -2 -1.2zM1548.4 418.1l-2 1 .9 1 5.1 .2 2.1 -1.2 -2.1 -1zM1346.7 333.2l1.5 .5 1 2.5 1 8 -1 4.9 -2 4.7 -1 .5 -2.3 -7.1 -.5 -4 1.1 -6 .7 -2.2zM1247.4 351.2l4.8 -.2 4 1.7 1 1.5 .2 2 -1.2 2.9 -1 1 -2 1 -4 -.1 -3 -1.2 -2.3 -1.6 -.9 -2 .2 -2.3 1.9 -1.7zM1217.4 353.2l4.8 -.1 4.6 1.1 2.4 1.7 .6 2.3 -.6 1 -2 1.3 -5 .8 -6.3 -1.1 -4.8 -2.4 0 -1.6 1 -1z"/>
<path fill="#8ec2dd" d="M1008 270.3l3.1 0 .6 21 .9 4 .2 10 .8 3 .2 6.9 .8 3 .3 6 3.1 17.3 5 17.1 6 12.8 5 8 6 7.8 7 7.5 7 6.3 9 6.7 10 6.3 11.3 6.1 10.8 4.9 9 -3.4 2.7 -2.5 1.6 -4 -.7 -5 .3 -2 3.1 -6.3 3 -3.4 6 -1.5 11 -5.2 9.4 -2.6 5.6 -2.1 4 -2.7 1.4 -2.1 .1 -4 -1.2 -2 -2.3 -2.4 -6 -2.8 -6 -.7 -3 .6 -1.9 1.3 -1.7 2 -1.4 4.1 -4 1.6 -3 4.6 -1 .2 -.4 -.5 -.3 -2 1.6 -11 3.1 -8.5 2.3 -3.5 4.7 -2.6 4 -.1 4.1 1.7 6 6 4.9 7 2 1.6 3 .5 3 -1 2.8 -2.1 5.2 -7.1 3 -2.8 3 -1.5 5 -1.1 3 -2 2 .1 3 2.2 4 5 5.2 9.2 3.8 2.3 14.2 5.7 2 2 0 3 .8 1 6.5 2.9 7.5 2 6.1 -.1 1.8 -.9 .4 -2.9 2.6 -3 10.2 -3.5 6 -.1 4 1.5 4.6 4.1 .3 1 -.9 2.9 .1 2 2.9 2.5 3 .5 3 -.3 2 -.9 3 -2.8 1 -.2 11.5 1.2 4.5 1.2 .8 .8 -1.3 3 .8 2 1.7 1.2 3 .5 3.6 -1.7 1 -2 .4 -2.5 5 -2 9 -5.1 15 -11 3 -1.4 13 -1.7 2 1.6 3.7 6.2 2.3 2.7 2.1 1.5 3 1 6 -.5 9 -4.2 2 -.4 6 4 6 1.4 10 -.3 7.2 -2.2 .6 -1 -1.8 -2.4 -.3 -4.6 -1 -2 -2.7 -2.2 -5.5 -1.8 -3.7 -2 1.3 -1 5.4 0 4.3 1 9.3 5 2.8 3 .9 2 -.2 1 -2.8 3 -.2 1 1.4 .5 5 .4 5.5 -1.9 2.5 -.4 13 -.6 4 .8 2 -.3 2.5 -1.5 8.5 -9.2 8 -14.5 5.4 -7.3 2.6 -1.5 2 .7 2 2.5 7.5 15.3 5.3 7 .8 5 2.4 2.4 6.1 .5 14 4.8 1.5 1.3 .3 2.9 .9 2 2.3 1.5 5 .1 6 -2.7 7 2.1 14.6 9 12.4 10.4 5 3.1 28 11 13 3.8 26.6 -12.3 10.6 -6 10.5 -7 7.6 -6 8.3 -8 6.5 -7.6 6 -8.7 4 -7.2 4 -9 5 -17.1 3.1 -17.3 .3 -6 .8 -3 .2 -6.9 .8 -3 .2 -10 .9 -4 .6 -21 3.1 0 0 233.7 -703.5 0zM1113.1 430.9l-1 .2 -.9 1 8.9 3.3 4 -.8 .9 -.5 .2 -1 -1.1 -1.1 -4 -1.2zM1169.1 410.1l-1.6 1 -.4 1 1 1.3 3 .9 17 -.1 3 -1.1 .3 -1 -2.3 -1.6 -5 -.9 -9 -.3zM1205.1 394l-3 .8 -1.6 1.3 -.2 2 .6 1 2.2 1.3 3 .5 3 -.6 1.6 -1.2 .6 -2 -1.2 -1.9 -2 -1zM1243.2 423l-6 2.1 -.5 1 .4 1 2.1 1 4.5 1 6.5 .3 6 -1.1 1.8 -1.2 .3 -1 -1.8 -2 -3.3 -1.1 -5 -.5zM1280.2 416.7l-2 1.2 -.7 1.2 .1 2 1.6 1.6 2 .8 3 .1 3 -1.3 1.1 -1.2 .1 -2 -2.2 -2.2 -3 -.7zM1358.2 409.1l-2 .4 -1.9 1.6 -.3 2 .6 1 1.6 1.1 2 .5 2.1 -.2 2 -1 1 -1.4 -.2 -2 -1.8 -1.5zM1433.3 385.1l-3 2.1 -.8 1.9 .2 2 1.3 2 2.3 1.4 2 .3 2 -.5 2.5 -2.2 .4 -2 -.4 -2 -2.5 -2.6 -2 -.6zM1547.4 417.1l-2.9 1 -1 1 .4 1 3.5 1.2 4 .2 4 -.9 1 -.5 .3 -1 -.7 -1 -2.6 -1zM1435.3 403.9l-1.6 1.2 .6 1.5 2.8 .5 2 -1 .2 -1 -1 -1zM1346 342.2l.2 -.5 1 -.1 .3 .6 .2 2 -.5 1.4 -1.1 -.4zM1248.7 353.2l5.8 0 1.3 1 .4 2.1 -1.7 1.9 -2.3 .8 -2 .2 -3 -1 -2 -1.8 -.3 -1.2 .8 -1zM1221 355.2l2.2 -.5 3 .4 1.8 1.1 .3 1 -.5 1 -1.6 .8 -3.3 .2 -1.7 -1 -.6 -2z"/>
<path fill="#a2cde2" d="M1008 270.3l2.9 0 1.8 35 .8 3 .2 6.9 .8 3 .3 6 3.2 18 5 18.1 6 13.4 4 6.5 6 8.1 7 7.6 7 6.3 9 6.8 9.7 6.1 9.1 5 14.3 6.9 9 -4.2 2.4 -1.7 2.3 -3 3 -8 2.6 -4 8.7 -6.8 8 -4.5 5 -2 10.1 -2.7 10.9 -4.9 3 -.2 10 1.9 6 0 6.9 -1.7 10.1 -4.5 5 .6 4.6 4.9 4.4 2.3 19.1 4.8 27 3.1 11 -1 8 .5 7 -1.7 6 -.1 7 1.9 3.7 4.1 3.3 1.3 3 -.6 5 -3.2 15.2 -2.5 17 -5 3.9 -2 3.9 -3.7 1 -.2 3.4 3 2.6 .9 4 .5 7.1 -.2 9 -1.4 16 2 11 -.3 10 -1.2 16 -.3 1 .4 1.3 4.5 1.7 1.9 3 1.3 2 -.1 2 -.8 2 -2.3 .5 -2 -.8 -3.9 .3 -1.4 9 -1.3 3.2 -1.3 3 -2 6.8 -8 8.3 -15 2.7 -2.9 3 -1.4 3 1.1 1.8 2.2 5 10 6 8 1.2 4 2 2.5 2 .9 4.1 .7 14 5.4 1.5 1.4 1.5 3.2 3 2 4 .3 6 -1.4 8 2.2 14 8 12 10.1 7 4.3 14.6 5.3 13.4 5.7 12 3.5 28.2 -13.2 10.5 -6 9.4 -6.3 8.5 -6.7 7.5 -7.3 6 -7 6 -8.7 4 -7.3 4 -9.5 5 -18.1 3.2 -18 .3 -6 .8 -3 .2 -6.9 .8 -3 1.8 -35 2.9 0 0 233.7 -703.5 0zM1113.1 430l-4 .9 -2.2 1.2 11.2 4.4 6 -.9 2.5 -1.5 .1 -1 -.6 -1 -3 -1.6 -5 -.9zM1168.1 409l-1.8 1.1 -.5 2 1.3 1.8 3 1 9 .4 10 -.5 2.4 -.7 1 -1 .2 -1 -1.7 -2 -4.9 -1.2 -13 -.6zM1205.1 392.9l-3 .9 -2.1 1.3 -1 2 .6 2 2.5 1.9 3 .8 3 -.2 3 -1.4 1.3 -2.1 -.7 -3 -2.6 -1.8zM1244.2 422.1l-7.3 2 -1.3 1 -.4 1 .3 1 1.2 1 2.8 1 8.7 1.1 7 -.8 3 -1.2 .9 -1.1 -.1 -2 -3.8 -2.4 -6 -1zM1281.2 415.9l-2.8 1.2 -1.5 2 .2 2 1.1 1.4 2 1.1 3 .5 3 -.7 1.9 -1.3 .6 -1 .2 -2 -1.5 -2 -3.2 -1.3zM1356.2 409l-2 1.3 -.8 1.8 .6 2 1.1 1 4.1 1 2.1 -.5 2 -1.5 .6 -2 -1.6 -2.5 -3.1 -1.1zM1434.3 403.1l-1.9 2 .1 1 1.8 1.6 4 0 2.1 -1.6 -.3 -2 -1.4 -1 -2.4 -.4zM1548.4 416l-4 1 -1.9 1.1 -.7 1 .2 1 2.4 1.3 5 .9 6 -.7 2.4 -1.5 -.1 -2 -1.3 -1 -4 -1zM1132.6 358.2l4.2 1 2.3 3 -12 1.5 -.2 -1.5 1.4 -2zM1140.9 364.2l2.2 1.4 2 2.2 .7 1.4 -.7 1 -4.9 -2 -.4 -1zM1252.4 382.2l3.1 0 2.9 1 1.9 2 -.2 1 -2.9 1 -5 -.1 -4 -.7 -2 -1.2 .4 -1 1.8 -1z"/>
<path fill="#b3d6e7" d="M1008 270.3l2.8 0 .5 4 .2 17 .9 4 .2 10 .7 3 1.4 15.9 3.1 18 5.2 19 4 10 3 6 5 7.9 5 6.4 7 7.4 7 6 8.5 6.2 9.6 6 24 12.1 2.8 -2.1 7.2 -3.5 3.1 -2.5 1.5 -2 3 -7 1.8 -3 4.6 -4.8 5 -3.7 10 -5 11 -2 8.1 -3.5 4.9 -1.2 4 .1 4 .9 2 1.2 0 1 -2.2 2 -3.8 1.5 -11 .5 -2 .6 -1 .9 -.3 1.5 1.7 4 2.2 3 2.4 1.8 8 2.5 1.7 2.7 2.3 1.8 3 .7 5 .3 15 -.4 2 -.6 1.8 -1.8 0 -2 -2.8 -2.3 -4 -1 -13 -1.3 -2 -.8 -.9 -1.6 .4 -2 1.5 -2 9.7 -5 .1 -1 -2.5 -3 0 -1 1 -1 4.7 -1.7 5 -.9 5 .7 6.5 2.9 .5 1 -5.3 4 -.5 1 0 2 1.3 2 2.5 1.8 3 1 3 .3 3 -.4 2.9 -1.7 1.2 -2 .1 -4 .8 -1.1 12.1 2.7 12 .5 13 2.7 15 -2.3 18 .1 7 1 5 2.9 2 .4 3 -.4 5 -2 16 -1.9 23 -6.3 13 -.4 14.1 -1.4 15 1.8 24 -2 14 -.2 1 .3 2.3 3.6 1.7 1.7 2 1 3 .1 3 -1.4 1.2 -1.4 1.8 -5.7 11 -3 5.2 -3.2 5.6 -8 7.2 -13.4 2.2 -2.6 2.8 -1.3 1.4 .3 1.6 1.3 5.3 9.7 6.3 8 2.7 5 1.7 1.5 18.7 7.4 1.5 1 2.9 4.1 2 1.5 3 .5 8 -1 8.9 2.9 12.1 6.8 12 10.2 7 4.4 13.3 4.6 13.7 6.5 13 3.9 12 -5.2 18.1 -8.9 18.4 -11.3 8.6 -6.6 7 -6.6 6 -6.8 6 -8.6 4 -7.2 4 -9.4 3 -9.1 3.2 -12.6 3.1 -18 1.4 -15.9 .7 -3 .2 -10 .9 -4 .2 -17 .5 -4 2.8 0 0 233.7 -703.5 0zM1112.1 429l-5 1.5 -2.3 2.6 9.4 4 2.9 .4 7.9 -1.4 2 -1 .7 -1 -.2 -2 -1 -1 -5.4 -2.6 -4 -.3zM1245.2 421l-9 2.5 -1.8 1.6 0 2 1.8 1.6 2 .8 10 1.3 8 -.9 3 -1.5 .9 -1.3 -.1 -2 -.7 -1 -3.1 -1.9 -6 -1.3zM1279.2 416l-1.6 1.1 -1.2 2 .1 2 1.7 2 3 1.4 3 0 3 -1 1.5 -1.4 .7 -3 -2.2 -2.8 -4 -1.1zM1357.2 408l-2 .6 -1.7 1.5 -.8 2 .6 2 1.9 1.7 2 .7 3.1 0 2 -.8 2.1 -2.6 -.7 -3 -2.4 -1.7zM1434.3 401.9l-2 1.1 -.8 1.1 -.1 2 .9 1.4 2 1.1 2 .2 3 -.5 1.6 -1.2 .7 -2 -1.3 -2.4 -3 -1.2zM1548.4 415.1l-6 1.9 -1.3 1.1 -.3 2 2.6 1.9 6 1 6.9 -.9 2.8 -2 .2 -2 -.9 -1.2 -2 -1.1 -4 -.8zM1545.4 453l-2 1.1 .2 1 1.8 .4 6 -1.4 -1 -1.1z"/>
<path fill="#c3deec" d="M1008 270.3l2.6 0 .7 4 .2 17 .8 4 .3 11 .8 3 .2 6.9 .8 3 .2 5 3.1 18 2.1 9 4.1 13 4.1 9.8 5 9.2 8 11 8 8.1 11.3 8.8 14.6 9 22.2 11.1 4.9 -3.1 5.8 -2 2.1 0 -.4 1 -4.6 3 -1.4 2 -.1 2 10.7 4.3 10 -1.5 3.9 -1.8 .6 -1 -.1 -2 -3.6 -4 -.3 -2 4.6 -6 10.1 -8 1.3 -2 .5 -3 1 -.5 7 4.5 12 1.2 7 3.7 6 .5 15 -.2 3 -.5 2.4 -1.7 .9 -2 -.6 -3 -1.7 -1.6 -2 -1 -9 -2 -.6 -.4 .6 -1.1 4 -1 9 0 12 5.2 18.1 2.1 6.4 -1.2 4.6 -4 2 -.8 2 -.1 4 1.5 6 4.8 3 .8 4 .1 7.9 -1.3 3 -1 .6 -1 -3.9 -3 -.9 -2 .6 -1 3.7 -1.3 11 -.4 9 .4 4 .6 7 2.6 9 -1.5 13 0 3 -.7 10.9 -4.7 11.1 -2.9 13 -.4 14.1 -1.4 5 .7 1.8 1 .6 1 -3.5 7 .4 2 2.7 2.3 5 1.2 10 .9 7 -.4 6.4 -1 5.2 -2 .7 -1 -.3 -1 -3.1 -2 -4.9 -1.9 -9 -1.2 -1.6 -.9 .3 -1 17.3 -3.9 12 -.4 2 .7 4 4.4 2 1 3 .3 2 -.6 2 -1.7 2.2 -4.8 1.8 -1.5 6 -.6 6 1.5 3 -.5 5 -3 3.7 -3.8 1.1 -3 -1.5 -5 .9 -4 3.8 -7.7 2 -2.5 2 -.9 1.4 1.1 3.1 6 8.5 9.9 4 6.1 4 2.4 11.9 4.5 3.1 2 .7 2 -.7 4 2.8 3 5.3 2.4 12 2.8 3 -.5 .9 -.7 1.1 -2.3 1 -.3 4 .6 5 1.9 3.5 2.1 3.5 3 2.4 3 .4 1 -.8 .4 -8 .5 -3 .8 -4 1.9 -1.6 2.4 .1 1 1.5 1.7 6 1.7 7 -.2 5 -1.9 3 -3.7 10 5 10.8 3.4 9.2 5.8 16 5.4 14.6 -6.2 17.9 -9 18.3 -11 8.3 -6.3 7 -6.3 6 -6.8 6 -8.5 5 -9.2 4.1 -9.8 4.1 -13 2.1 -9 3.1 -18 .2 -5 .8 -3 .2 -6.9 .8 -3 .3 -11 .8 -4 .2 -17 .7 -4 2.6 0 0 233.7 -703.5 0zM1246.2 420l-10 2.6 -2.7 2.5 0 2 1.7 1.9 2 .9 10 1.6 9 -.9 2 -.8 2.2 -1.7 .5 -1 0 -2 -2.7 -2.8 -5 -1.8zM1280.2 414.8l-2 .9 -2 2.4 -.4 2 1.4 2.9 2 1.4 3 .7 3 -.2 3 -1.5 1.8 -3.3 -1.1 -3 -1.7 -1.5 -3 -1zM1357.2 406.9l-2 .5 -2.4 1.7 -.8 2 .5 3 1.7 1.8 2 1 3 .2 3.1 -.8 2.3 -2.2 .5 -2 -.5 -2 -1.3 -1.5 -2 -1.2zM1434.3 400l-3 1.8 -.9 1.3 -.4 2 .7 2 1.6 1.4 3 1 3 -.2 2.6 -1.2 1.8 -3 -.3 -2 -1.1 -1.9 -3 -1.6zM1543.4 451.9l-2.6 1.2 -.8 1 .1 1 1 1 3 1 9.4 -2 1.3 -1 -1.4 -1.6 -3 -.9zM1124.9 404.1l2.2 -.4 .7 .4 -5.1 9 -3.5 3 -3.1 .6 -.5 -.6 -.1 -2 1.6 -3.4 4 -4.2z"/>
<path fill="#d2e5f0" d="M1008 270.3l2.5 0 .7 4 .2 17 .8 4 .3 11 .8 3 .2 6.9 .8 3 .2 5 3.1 18 3.2 13 2.9 9 4.1 10 5.2 9.8 5 7.4 7 8.3 7 6.5 9 6.8 11.5 7.1 16.6 8.8 24 10.8 12 -2.3 3 -1.4 .9 -.9 .7 -2 -1.5 -4 0 -2 3 -4 4.9 -3.6 6 -2.2 8 -.8 9 -1.7 3 .2 5 1.8 3 .3 20 0 4 -.9 6 -4 9 -1 17.1 1.6 13 -.2 12 2.6 25 -2 .8 .9 -1.5 3 -.4 3 1.3 3 1.8 1.6 2 .9 5 .1 4 -2.3 1.5 -3.3 -.8 -3 -2.7 -2.7 -7.9 -2.3 1.5 -4 .8 -5 2.6 -.8 5 .3 3.8 1.5 1.1 2 .6 4 3.6 3 5.9 1.7 9 1 10 -.6 16 -3.3 7 -.1 3 .5 3.8 3.8 2.2 1.3 5.1 .5 3 -1.2 1.6 -1.6 1.1 -2 .8 -5 .5 -.7 1 -.2 11 1.9 18 1.1 15 -1.3 14 -3.1 2 .8 4 3.1 3 .7 3 -.2 2 -.6 2.1 -1.5 2.9 -4.9 5.5 -6.1 7.5 -3.4 6 -3.9 5 -4.2 8.9 -9.4 2.1 -.7 2 .8 1.8 1.9 2 5 1.4 2 2.8 1.7 10.1 3.6 1.7 1.6 2.6 5 6.7 5 7 3.3 11 3.7 6 1 7 .2 2.4 .8 .2 1 -.7 1 -3.9 3.1 -1.3 1.9 -.1 2 2.4 2.6 4 1.3 5 .5 6 -.8 5 -1.4 2 .2 14.2 5.6 8.8 5.1 14 4.4 5 2.5 24.7 -11 16.9 -9 11.5 -7.1 9 -6.8 7 -6.5 7 -8.3 5 -7.4 5.2 -9.8 4.1 -10 2.9 -9 3.2 -13 3.1 -18 .2 -5 .8 -3 .2 -6.9 .8 -3 .3 -11 .8 -4 .2 -17 .7 -4 2.5 0 0 233.7 -703.5 0zM1244.2 418.9l-6 1.8 -4 2 -1.8 2.4 .6 3 2.2 1.8 2 .8 11 1.5 8 -.9 3 -1.1 2.2 -2.1 .5 -2 -.5 -2 -1.2 -1.6 -3 -2 -7 -2.2zM1266.2 446.9l-1.7 1.2 1.1 1 2.6 .5 5 -.3 2.6 -1.2 -1 -1 -2.6 -.5zM1449.3 432.8l-1.7 1.3 .7 .9 4 .9 7 -.5 3.3 -1.3 -1 -1 -4.3 -.8zM1542.4 450.9l-2.7 1.2 -1.7 2 .6 2 2.8 1.5 5 .7 9 -2.2 1 -1 0 -1 -1 -1.7 -3 -1.5 -5 -.6zM1364 395.1l5.3 -.6 2.2 .6 -.2 1 -3 3.9 -3 2.4 -1 -.1 -2 -1.6 -2.1 -3.6 1 -1zM1344.6 396.1l5.6 -.2 1.2 .2 .4 1 -1.9 1 -4.7 1.1 -5 .5 -1.6 -.6 .9 -1z"/>
<path fill="#dbeaf2" d="M1008 270.3l2.4 0 0 2 .7 2 .2 18 .9 3 .1 10 .9 4 .2 6.9 .8 3 .2 5 .8 3 .4 5 2.9 15 6.1 20 4.4 10 5 9 5 7.3 7 8.1 7 6.6 7.9 5.9 9.3 6 18.3 10 24.6 11.1 1 .2 3.2 -1.3 7.8 -1.7 4 -1.8 1.8 -2.5 .7 -5 1.2 -2 3.3 -2.9 4 -1.6 4.8 .5 6.4 5 8.8 4.1 2 .3 .3 -.4 -2 -2 -.9 -2 -.7 -6 .9 -2 3.4 -1.5 20 -.5 17 2 3 -.6 6 -3.1 4 -.7 11.1 2 9 -.1 1.8 .5 -.1 1 -3 3 -1.3 3 .2 2 1.4 2.1 2 1.6 3 1.1 6 1 6 .3 7 -.8 3 -1 2.1 -1.3 1.6 -2 .5 -2 -.3 -2 -2.1 -4 0 -1 1.5 -1 2.7 -.5 4 0 2.4 .5 1.1 1 1.7 4 1.8 2 2 1.4 3 .9 4 0 4 -1.7 2.2 -2.6 1.8 -4.9 2 -.5 14 1.8 7.6 1.6 1.9 1 .7 1 .3 3 .7 1 2.8 1.2 4 .2 3.3 -.4 2.7 -1.2 1.6 -1.8 -.1 -4 .5 -1.3 2.2 -1.7 3.8 -1.1 7 .1 7 2.6 3 .3 5.1 -1.3 6 -4.8 6 -1.4 6 -.2 18 1.5 14 -.8 13 -2.4 8 1.4 4 -.2 3 -1 5 -3.4 6 -3 7.3 -7.3 14.7 -10.7 3 -1.3 2 .6 6 4.5 8 3.5 8.1 6.9 9 4.9 8 3.2 18.7 5.4 .9 1 -.4 4 .5 2 1.3 1.6 2 1.3 7 1.7 11 -.8 3 .5 9.9 4.7 9.1 5.9 13.4 3.1 8.6 3.2 13 -5.3 12.7 -5.9 18.4 -10 10 -6.2 9 -6.7 7 -6.6 7 -8.1 5 -7.3 5 -9 4.4 -10 6.1 -20 2.9 -15 .4 -5 .8 -3 .2 -5 .8 -3 .2 -6.9 .9 -4 .1 -10 .9 -3 .2 -18 .7 -2 0 -2 2.4 0 0 233.7 -703.5 0zM1267.2 445l-5 1.1 -1.3 1 -.3 1 .6 1 4 1.5 6 .4 5.9 -.9 2.4 -1 .8 -1 -1.1 -1.6 -3 -1.1 -4 -.5zM1448.3 430.8l-2.8 1.3 -.9 2 1.5 2 3.2 1.1 6 .5 6 -.6 4 -1 2 -2 -.2 -1 -1.1 -1 -3.7 -1.1 -7 -.6zM1541.4 450l-3.9 2.1 -1.2 2 .1 1.2 1 1.6 3 1.6 4 .8 4 0 8 -2.1 1.4 -2.1 -.3 -2 -.8 -1 -3.3 -2 -6 -.8z"/>
<path fill="#e4eef4" d="M1008 270.3l2.3 0 0 2 .8 2 .1 18 .9 3 .2 11 .8 3 .2 6.9 .8 3 .2 6 .8 2 .3 5 .7 2 1.3 9 3 12 3.2 10 5.1 12 4.9 9 6.2 8.9 6 7 7.2 7 9.2 7 9.5 6 18 10 12.6 6 14.8 6 1.2 0 2.5 -2 8.3 -2.4 6 -3.8 4 -.9 6 1.2 8 5 6 .9 7 -.9 13.1 -3.1 5.9 -2 5 -2.4 2 -.3 11 1.9 4.1 -.2 7.9 -2.2 4 -.4 21.1 2.2 10 .3 9 -1.3 10 -3.5 12 1.1 6 0 5 -.8 7 -2.2 3 -.4 3 .7 7 3.5 4 .8 8 .3 11 -.8 18 -2.6 15.9 -3.7 3.1 -2 2.1 -4.2 3 -1.3 2.6 .5 3 4 1.4 .8 4 .8 9 -.4 13 .5 3.1 -.7 7.9 -3.3 5 -.8 4 .3 9 1.8 5 .1 6.1 -2.1 7.5 -6 10.1 -5 1.1 -2 .9 -5 1.5 -2 2.8 -1.2 5 -.3 6 .4 3 .8 2.8 2.3 .7 2 -.8 3 -2.7 2.9 -3 1.5 -7.3 1.6 -.2 1 1.5 .7 2 .3 8 -.9 11.1 1 14 -1.9 10 1.3 4.4 1.5 3.4 2 4.7 7 5.5 3.5 6 1.7 9 -.8 3 .5 3 2 4.7 5.1 4.3 2.3 7 2.3 11 1.6 7 2.4 12.7 -4.6 15.7 -7 11.5 -6 17.1 -10 9.1 -6.6 8 -7.1 7.4 -8.3 5.1 -7 5.8 -9.9 4.2 -9 3.9 -11 3.2 -12 3 -15 .3 -5 .8 -2 .2 -6 .8 -3 .2 -6.9 .8 -3 .2 -11 .9 -3 .1 -18 .8 -2 0 -2 2.3 0 0 233.7 -703.5 0zM1135.1 450l1 .2 1 .9 3 .4 .5 -.4 -.8 -1 -1.7 -.6zM1263.2 443.9l-4 1.8 -1 2.4 1.4 2 3.6 1.4 6 .6 7 -.6 4.9 -1.4 1.8 -2 -.6 -2 -1.1 -.9 -4 -1.3 -7 -.7zM1452.3 428l-5 .6 -3 1.5 -1.8 3 1 3 1.8 1.4 3 1.1 8 .7 9 -1.4 3 -1.4 1.2 -1.4 .2 -2 -.5 -1 -2.9 -2.1 -6 -1.5zM1546.4 448.1l-6 .8 -4 2.1 -1.8 3.1 .8 3 4 2.4 8 1.1 9 -2 2 -1.5 .8 -3 -1.8 -3.2 -5 -2.4zM1178 422.1l2.1 -.7 3 .3 2.2 1.4 .3 1 -.5 .8 -1 .3 -3 -.3 -3 -1.2 -.5 -.6z"/>
<path fill="#ecf2f5" d="M1008 270.3l2.2 0 .2 3 .6 1.1 .2 17.9 .8 3 .2 11 .9 3 .1 7.9 .8 2 .2 6 .8 2 .3 5 .8 2 .2 4 .7 1.6 1.4 8.4 4 14 4.1 11 5 10 7.1 10.9 8.4 9.9 9 8.3 11 7.9 15.2 8.9 13.5 7 16.2 7 19.1 7 14.1 4.2 .9 -.2 4.1 -4.5 4 -2 39 -8.1 13 -.1 13 -1.5 12.1 .6 17 -.5 38 -2.7 14 -.2 17 1.1 23 -.8 55.1 -5.5 16 .1 14 -1.8 9 .1 4 .6 1.5 1.2 1.6 6 2.9 2.7 6 1.7 9 .3 6 -1.1 3 -1.2 1.9 -1.4 1.3 -2 .2 -2 -.8 -2 -5.6 -5 0 -1.3 4 -2 7 -.6 19 -.1 9.1 1 21 5.9 16 5.6 17 4.3 17 5.5 16 4.3 2.9 -.6 15.8 -6 15.7 -7 11.5 -6 16.2 -9.6 10 -7.2 8 -7.3 6.3 -6.9 7.2 -10 5.1 -8.9 4.9 -11 3.1 -9 3 -11 1.4 -8.4 .7 -1.6 .2 -4 .8 -2 .3 -5 .8 -2 .2 -6 .8 -2 .1 -7.9 .9 -3 .2 -11 .8 -3 .2 -17.9 .6 -1.1 .2 -3 2.2 0 0 233.7 -703.5 0zM1267.2 441l-5 .9 -4 1.9 -1.3 1.3 -.7 2 .4 2 .8 1 2.8 1.6 3 .8 9 .4 9 -1.7 2.1 -1.1 1.4 -2 -.1 -2 -.7 -1 -3.7 -2.4 -6 -1.5zM1542.4 446.9l-5 1.5 -2.4 1.7 -1.5 2 -.7 2 .2 2 1.1 2 2.3 1.8 5 1.6 6 .3 10 -2.5 2.7 -2.2 .6 -2 -.6 -3 -1.4 -2 -2.3 -1.7 -6 -1.7z"/>
<path fill="#f6f7f7" d="M1008 270.3l2.1 0 .1 3 .8 1.8 .1 18.2 .9 2.6 .1 11.4 .9 2.2 .1 7.7 .9 2.6 .2 6.4 .8 1.7 .3 5.3 .7 1.5 1.3 9.5 .7 1.3 .2 2.7 3.2 12 3.9 11 4.1 9 5.2 8.9 4.8 7 8.6 9.8 10 8.8 8 5.7 15.1 9 11 5.9 16 7.2 15 5.8 18 6 9 2.3 10 -3.5 6 -.6 11 .1 11.4 -5.5 5.6 -1.5 12 -.3 12 -1.5 17.1 1.8 14 -1.5 2.5 1 2.9 5 3 2 5.6 1.5 8 .3 8 -1 5 -1.9 2.6 -2.9 .6 -6 2.8 -1.3 5 -.1 14 1.2 18 -.5 23 .4 7 -.6 10.1 -2.7 7 -1 21 -1.4 14 .4 14 -1.5 10 1.2 2 1.2 6 5.2 5 2.2 5 1 6 .2 9 -2.3 6 -3.3 2.4 -3.3 1 -6 1.4 -2 4.2 -.8 6 0 12 1.4 23.1 5.4 15.6 6 1 1 -.4 1 -5.2 3.9 -2.4 3.1 -1.1 3 -.1 3 1.2 3 2.4 2.3 4 1.8 5 .6 19.2 -4.7 1.4 -1 1.4 -2 .3 -2 -.7 -5 1.4 -1 4.3 1 7.7 3.2 8 -.3 19 -6.7 18 -7.6 16 -8.3 18.1 -11.1 11 -8.6 8.5 -8.6 6.9 -9 7.2 -11.9 6 -14 3.2 -10 2 -8 .2 -2.7 .7 -1.3 .3 -3.8 .7 -1.2 .3 -4.5 .9 -2.5 .1 -4.3 .8 -1.7 .2 -6.4 .9 -2.6 .1 -7.7 .9 -2.2 .1 -11.4 .9 -2.6 .1 -18.2 .8 -1.8 .1 -3 2.1 0 0 233.7 -703.5 0zM1386.3 475l-6.9 2 -2.4 2 -.8 2 -.1 4 .5 2 1.6 2 3.2 1 5.9 -.3 13.7 -2.7 2.7 -1 .9 -1 -.2 -4 -3.1 -3 -8.1 -3zM1455.3 461.9l-5.4 3.1 -1.4 2 0 1 1.5 2 6.3 4 2.3 4 1.7 .7 3 .1 5.5 -.8 2.8 -1 .7 -1 -7 -5.9 -4 -7.4 -3 -1.4z"/>
<path fill="#f9efea" d="M1370.3 450.1l22 -.5 17.5 2.5 5.5 1.2 3 1.3 2.2 2.5 0 2 -1.2 1.7 -1.8 1.3 -6.2 1.5 -36 2.1 -16.1 .1 -15 1.3 -36 -.3 -19 .5 -37 -1.1 -7.5 -1.2 -2 -1 -1.5 -1.9 .4 -2 2.5 -2 4.1 -1.5 4 -.7 13 .7 7 -.2 7 -1 10 -2.7 4 -.6 35 -1.6z"/>
<path d="M1007.5 269.8H1712.0V504.5H1007.5zM1009.5 266.8L1009.5 266.8L1009.5 266.8L1009.6 266.8L1009.7 266.8L1009.9 266.8L1010.0 266.8L1010.2 266.8L1010.5 266.8L1011.0 272.8L1011.5 284.5L1012.0 293.6L1012.5 301.1L1013.5 312.8L1014.5 321.9L1014.5 321.9L1015.5 329.4L1017.0 338.5L1019.5 350.2L1022.0 359.4L1024.5 366.8L1027.0 373.1L1029.5 378.5L1032.0 383.3L1034.5 387.6L1037.0 391.5L1039.5 395.1L1042.0 398.4L1044.5 401.4L1047.0 404.2L1049.5 406.8L1052.0 409.3L1054.5 411.6L1057.0 413.9L1059.5 415.9L1062.0 417.9L1064.5 419.8L1067.0 421.7L1069.5 423.4L1072.0 425.1L1074.5 426.7L1077.0 428.2L1079.5 429.7L1082.1 431.1L1084.6 432.5L1087.1 433.8L1089.6 435.1L1092.1 436.4L1094.6 437.6L1097.1 438.8L1099.6 439.9L1102.1 441.1L1104.6 442.1L1107.1 443.2L1109.6 444.2L1112.1 445.2L1114.6 446.2L1117.1 447.2L1119.6 448.1L1122.1 449.1L1124.6 449.9L1127.1 450.8L1129.6 451.7L1132.1 452.5L1134.6 453.4L1137.1 454.2L1139.6 455.0L1142.1 455.7L1144.6 456.5L1147.1 457.2L1149.6 458.0L1152.1 458.7L1154.6 459.4L1157.1 460.1L1159.6 460.8L1162.1 461.5L1164.6 462.1L1167.1 462.8L1169.6 463.4L1172.1 464.1L1174.6 464.7L1177.1 465.3L1179.6 465.9L1182.1 466.5L1184.6 467.1L1187.1 467.7L1189.6 468.2L1192.1 468.8L1194.6 469.4L1197.1 469.9L1199.6 470.4L1202.1 471.0L1204.6 471.5L1207.1 472.0L1209.6 472.5L1212.1 473.0L1214.6 473.5L1217.1 474.0L1219.7 474.5L1222.2 475.0L1224.7 475.5L1227.2 476.0L1229.7 476.4L1232.2 476.9L1234.7 477.3L1237.2 477.8L1239.7 478.2L1242.2 478.7L1244.7 479.1L1247.2 479.6L1249.7 480.0L1252.2 480.4L1254.7 480.8L1257.2 481.2L1259.7 481.6L1262.2 482.1L1264.7 482.5L1267.2 482.9L1269.7 483.2L1272.2 483.6L1274.7 484.0L1277.2 484.4L1279.7 484.8L1282.2 485.2L1284.7 485.5L1287.2 485.9L1289.7 486.3L1292.2 486.6L1294.7 487.0L1297.2 487.4L1299.7 487.7L1302.2 488.1L1304.7 488.4L1307.2 488.7L1309.7 489.1L1312.2 489.4L1314.7 489.8L1317.2 490.1L1319.7 490.4L1322.2 490.8L1324.7 491.1L1327.2 491.4L1329.7 491.7L1332.2 492.0L1334.7 492.4L1337.2 492.7L1339.7 493.0L1342.2 493.3L1344.7 493.6L1347.2 493.9L1349.7 494.2L1352.2 494.5L1354.7 494.8L1357.2 495.1L1359.8 495.4L1362.3 495.1L1364.8 494.8L1367.3 494.5L1369.8 494.2L1372.3 493.9L1374.8 493.6L1377.3 493.3L1379.8 493.0L1382.3 492.7L1384.8 492.4L1387.3 492.0L1389.8 491.7L1392.3 491.4L1394.8 491.1L1397.3 490.8L1399.8 490.4L1402.3 490.1L1404.8 489.8L1407.3 489.4L1409.8 489.1L1412.3 488.7L1414.8 488.4L1417.3 488.1L1419.8 487.7L1422.3 487.4L1424.8 487.0L1427.3 486.6L1429.8 486.3L1432.3 485.9L1434.8 485.5L1437.3 485.2L1439.8 484.8L1442.3 484.4L1444.8 484.0L1447.3 483.6L1449.8 483.2L1452.3 482.9L1454.8 482.5L1457.3 482.1L1459.8 481.6L1462.3 481.2L1464.8 480.8L1467.3 480.4L1469.8 480.0L1472.3 479.6L1474.8 479.1L1477.3 478.7L1479.8 478.2L1482.3 477.8L1484.8 477.3L1487.3 476.9L1489.8 476.4L1492.3 476.0L1494.8 475.5L1497.3 475.0L1499.8 474.5L1502.4 474.0L1504.9 473.5L1507.4 473.0L1509.9 472.5L1512.4 472.0L1514.9 471.5L1517.4 471.0L1519.9 470.4L1522.4 469.9L1524.9 469.4L1527.4 468.8L1529.9 468.2L1532.4 467.7L1534.9 467.1L1537.4 466.5L1539.9 465.9L1542.4 465.3L1544.9 464.7L1547.4 464.1L1549.9 463.4L1552.4 462.8L1554.9 462.1L1557.4 461.5L1559.9 460.8L1562.4 460.1L1564.9 459.4L1567.4 458.7L1569.9 458.0L1572.4 457.2L1574.9 456.5L1577.4 455.7L1579.9 455.0L1582.4 454.2L1584.9 453.4L1587.4 452.5L1589.9 451.7L1592.4 450.8L1594.9 449.9L1597.4 449.1L1599.9 448.1L1602.4 447.2L1604.9 446.2L1607.4 445.2L1609.9 444.2L1612.4 443.2L1614.9 442.1L1617.4 441.1L1619.9 439.9L1622.4 438.8L1624.9 437.6L1627.4 436.4L1629.9 435.1L1632.4 433.8L1634.9 432.5L1637.4 431.1L1640.0 429.7L1642.5 428.2L1645.0 426.7L1647.5 425.1L1650.0 423.4L1652.5 421.7L1655.0 419.8L1657.5 417.9L1660.0 415.9L1662.5 413.9L1665.0 411.6L1667.5 409.3L1670.0 406.8L1672.5 404.2L1675.0 401.4L1677.5 398.4L1680.0 395.1L1682.5 391.5L1685.0 387.6L1687.5 383.3L1690.0 378.5L1692.5 373.1L1695.0 366.8L1697.5 359.4L1700.0 350.2L1702.5 338.5L1704.0 329.4L1705.0 321.9L1705.0 321.9L1706.0 312.8L1707.0 301.1L1707.5 293.6L1708.0 284.5L1708.5 272.8L1709.0 266.8L1709.2 266.8L1709.5 266.8L1709.7 266.8L1709.8 266.8L1709.9 266.8L1710.0 266.8L1710.0 266.8L1710.0 266.8L1712.0 265.8L1007.5 265.8z" fill-rule="evenodd" fill="url(#ogD)"/>
<path d="M1007.5 269.8H1712.0V504.5H1007.5zM1009.5 266.8L1009.5 266.8L1009.5 266.8L1009.6 266.8L1009.7 266.8L1009.9 266.8L1010.0 266.8L1010.2 266.8L1010.5 266.8L1011.0 272.8L1011.5 284.5L1012.0 293.6L1012.5 301.1L1013.5 312.8L1014.5 321.9L1014.5 321.9L1015.5 329.4L1017.0 338.5L1019.5 350.2L1022.0 359.4L1024.5 366.8L1027.0 373.1L1029.5 378.5L1032.0 383.3L1034.5 387.6L1037.0 391.5L1039.5 395.1L1042.0 398.4L1044.5 401.4L1047.0 404.2L1049.5 406.8L1052.0 409.3L1054.5 411.6L1057.0 413.9L1059.5 415.9L1062.0 417.9L1064.5 419.8L1067.0 421.7L1069.5 423.4L1072.0 425.1L1074.5 426.7L1077.0 428.2L1079.5 429.7L1082.1 431.1L1084.6 432.5L1087.1 433.8L1089.6 435.1L1092.1 436.4L1094.6 437.6L1097.1 438.8L1099.6 439.9L1102.1 441.1L1104.6 442.1L1107.1 443.2L1109.6 444.2L1112.1 445.2L1114.6 446.2L1117.1 447.2L1119.6 448.1L1122.1 449.1L1124.6 449.9L1127.1 450.8L1129.6 451.7L1132.1 452.5L1134.6 453.4L1137.1 454.2L1139.6 455.0L1142.1 455.7L1144.6 456.5L1147.1 457.2L1149.6 458.0L1152.1 458.7L1154.6 459.4L1157.1 460.1L1159.6 460.8L1162.1 461.5L1164.6 462.1L1167.1 462.8L1169.6 463.4L1172.1 464.1L1174.6 464.7L1177.1 465.3L1179.6 465.9L1182.1 466.5L1184.6 467.1L1187.1 467.7L1189.6 468.2L1192.1 468.8L1194.6 469.4L1197.1 469.9L1199.6 470.4L1202.1 471.0L1204.6 471.5L1207.1 472.0L1209.6 472.5L1212.1 473.0L1214.6 473.5L1217.1 474.0L1219.7 474.5L1222.2 475.0L1224.7 475.5L1227.2 476.0L1229.7 476.4L1232.2 476.9L1234.7 477.3L1237.2 477.8L1239.7 478.2L1242.2 478.7L1244.7 479.1L1247.2 479.6L1249.7 480.0L1252.2 480.4L1254.7 480.8L1257.2 481.2L1259.7 481.6L1262.2 482.1L1264.7 482.5L1267.2 482.9L1269.7 483.2L1272.2 483.6L1274.7 484.0L1277.2 484.4L1279.7 484.8L1282.2 485.2L1284.7 485.5L1287.2 485.9L1289.7 486.3L1292.2 486.6L1294.7 487.0L1297.2 487.4L1299.7 487.7L1302.2 488.1L1304.7 488.4L1307.2 488.7L1309.7 489.1L1312.2 489.4L1314.7 489.8L1317.2 490.1L1319.7 490.4L1322.2 490.8L1324.7 491.1L1327.2 491.4L1329.7 491.7L1332.2 492.0L1334.7 492.4L1337.2 492.7L1339.7 493.0L1342.2 493.3L1344.7 493.6L1347.2 493.9L1349.7 494.2L1352.2 494.5L1354.7 494.8L1357.2 495.1L1359.8 495.4L1362.3 495.1L1364.8 494.8L1367.3 494.5L1369.8 494.2L1372.3 493.9L1374.8 493.6L1377.3 493.3L1379.8 493.0L1382.3 492.7L1384.8 492.4L1387.3 492.0L1389.8 491.7L1392.3 491.4L1394.8 491.1L1397.3 490.8L1399.8 490.4L1402.3 490.1L1404.8 489.8L1407.3 489.4L1409.8 489.1L1412.3 488.7L1414.8 488.4L1417.3 488.1L1419.8 487.7L1422.3 487.4L1424.8 487.0L1427.3 486.6L1429.8 486.3L1432.3 485.9L1434.8 485.5L1437.3 485.2L1439.8 484.8L1442.3 484.4L1444.8 484.0L1447.3 483.6L1449.8 483.2L1452.3 482.9L1454.8 482.5L1457.3 482.1L1459.8 481.6L1462.3 481.2L1464.8 480.8L1467.3 480.4L1469.8 480.0L1472.3 479.6L1474.8 479.1L1477.3 478.7L1479.8 478.2L1482.3 477.8L1484.8 477.3L1487.3 476.9L1489.8 476.4L1492.3 476.0L1494.8 475.5L1497.3 475.0L1499.8 474.5L1502.4 474.0L1504.9 473.5L1507.4 473.0L1509.9 472.5L1512.4 472.0L1514.9 471.5L1517.4 471.0L1519.9 470.4L1522.4 469.9L1524.9 469.4L1527.4 468.8L1529.9 468.2L1532.4 467.7L1534.9 467.1L1537.4 466.5L1539.9 465.9L1542.4 465.3L1544.9 464.7L1547.4 464.1L1549.9 463.4L1552.4 462.8L1554.9 462.1L1557.4 461.5L1559.9 460.8L1562.4 460.1L1564.9 459.4L1567.4 458.7L1569.9 458.0L1572.4 457.2L1574.9 456.5L1577.4 455.7L1579.9 455.0L1582.4 454.2L1584.9 453.4L1587.4 452.5L1589.9 451.7L1592.4 450.8L1594.9 449.9L1597.4 449.1L1599.9 448.1L1602.4 447.2L1604.9 446.2L1607.4 445.2L1609.9 444.2L1612.4 443.2L1614.9 442.1L1617.4 441.1L1619.9 439.9L1622.4 438.8L1624.9 437.6L1627.4 436.4L1629.9 435.1L1632.4 433.8L1634.9 432.5L1637.4 431.1L1640.0 429.7L1642.5 428.2L1645.0 426.7L1647.5 425.1L1650.0 423.4L1652.5 421.7L1655.0 419.8L1657.5 417.9L1660.0 415.9L1662.5 413.9L1665.0 411.6L1667.5 409.3L1670.0 406.8L1672.5 404.2L1675.0 401.4L1677.5 398.4L1680.0 395.1L1682.5 391.5L1685.0 387.6L1687.5 383.3L1690.0 378.5L1692.5 373.1L1695.0 366.8L1697.5 359.4L1700.0 350.2L1702.5 338.5L1704.0 329.4L1705.0 321.9L1705.0 321.9L1706.0 312.8L1707.0 301.1L1707.5 293.6L1708.0 284.5L1708.5 272.8L1709.0 266.8L1709.2 266.8L1709.5 266.8L1709.7 266.8L1709.8 266.8L1709.9 266.8L1710.0 266.8L1710.0 266.8L1710.0 266.8L1712.0 265.8L1007.5 265.8z" fill-rule="evenodd" fill="url(#ogDh)"/>
<path d="M1009.5 266.8L1009.5 266.8L1009.5 266.8L1009.6 266.8L1009.7 266.8L1009.9 266.8L1010.0 266.8L1010.2 266.8L1010.5 266.8L1011.0 272.8L1011.5 284.5L1012.0 293.6L1012.5 301.1L1013.5 312.8L1014.5 321.9L1014.5 321.9L1015.5 329.4L1017.0 338.5L1019.5 350.2L1022.0 359.4L1024.5 366.8L1027.0 373.1L1029.5 378.5L1032.0 383.3L1034.5 387.6L1037.0 391.5L1039.5 395.1L1042.0 398.4L1044.5 401.4L1047.0 404.2L1049.5 406.8L1052.0 409.3L1054.5 411.6L1057.0 413.9L1059.5 415.9L1062.0 417.9L1064.5 419.8L1067.0 421.7L1069.5 423.4L1072.0 425.1L1074.5 426.7L1077.0 428.2L1079.5 429.7L1082.1 431.1L1084.6 432.5L1087.1 433.8L1089.6 435.1L1092.1 436.4L1094.6 437.6L1097.1 438.8L1099.6 439.9L1102.1 441.1L1104.6 442.1L1107.1 443.2L1109.6 444.2L1112.1 445.2L1114.6 446.2L1117.1 447.2L1119.6 448.1L1122.1 449.1L1124.6 449.9L1127.1 450.8L1129.6 451.7L1132.1 452.5L1134.6 453.4L1137.1 454.2L1139.6 455.0L1142.1 455.7L1144.6 456.5L1147.1 457.2L1149.6 458.0L1152.1 458.7L1154.6 459.4L1157.1 460.1L1159.6 460.8L1162.1 461.5L1164.6 462.1L1167.1 462.8L1169.6 463.4L1172.1 464.1L1174.6 464.7L1177.1 465.3L1179.6 465.9L1182.1 466.5L1184.6 467.1L1187.1 467.7L1189.6 468.2L1192.1 468.8L1194.6 469.4L1197.1 469.9L1199.6 470.4L1202.1 471.0L1204.6 471.5L1207.1 472.0L1209.6 472.5L1212.1 473.0L1214.6 473.5L1217.1 474.0L1219.7 474.5L1222.2 475.0L1224.7 475.5L1227.2 476.0L1229.7 476.4L1232.2 476.9L1234.7 477.3L1237.2 477.8L1239.7 478.2L1242.2 478.7L1244.7 479.1L1247.2 479.6L1249.7 480.0L1252.2 480.4L1254.7 480.8L1257.2 481.2L1259.7 481.6L1262.2 482.1L1264.7 482.5L1267.2 482.9L1269.7 483.2L1272.2 483.6L1274.7 484.0L1277.2 484.4L1279.7 484.8L1282.2 485.2L1284.7 485.5L1287.2 485.9L1289.7 486.3L1292.2 486.6L1294.7 487.0L1297.2 487.4L1299.7 487.7L1302.2 488.1L1304.7 488.4L1307.2 488.7L1309.7 489.1L1312.2 489.4L1314.7 489.8L1317.2 490.1L1319.7 490.4L1322.2 490.8L1324.7 491.1L1327.2 491.4L1329.7 491.7L1332.2 492.0L1334.7 492.4L1337.2 492.7L1339.7 493.0L1342.2 493.3L1344.7 493.6L1347.2 493.9L1349.7 494.2L1352.2 494.5L1354.7 494.8L1357.2 495.1L1359.8 495.4L1362.3 495.1L1364.8 494.8L1367.3 494.5L1369.8 494.2L1372.3 493.9L1374.8 493.6L1377.3 493.3L1379.8 493.0L1382.3 492.7L1384.8 492.4L1387.3 492.0L1389.8 491.7L1392.3 491.4L1394.8 491.1L1397.3 490.8L1399.8 490.4L1402.3 490.1L1404.8 489.8L1407.3 489.4L1409.8 489.1L1412.3 488.7L1414.8 488.4L1417.3 488.1L1419.8 487.7L1422.3 487.4L1424.8 487.0L1427.3 486.6L1429.8 486.3L1432.3 485.9L1434.8 485.5L1437.3 485.2L1439.8 484.8L1442.3 484.4L1444.8 484.0L1447.3 483.6L1449.8 483.2L1452.3 482.9L1454.8 482.5L1457.3 482.1L1459.8 481.6L1462.3 481.2L1464.8 480.8L1467.3 480.4L1469.8 480.0L1472.3 479.6L1474.8 479.1L1477.3 478.7L1479.8 478.2L1482.3 477.8L1484.8 477.3L1487.3 476.9L1489.8 476.4L1492.3 476.0L1494.8 475.5L1497.3 475.0L1499.8 474.5L1502.4 474.0L1504.9 473.5L1507.4 473.0L1509.9 472.5L1512.4 472.0L1514.9 471.5L1517.4 471.0L1519.9 470.4L1522.4 469.9L1524.9 469.4L1527.4 468.8L1529.9 468.2L1532.4 467.7L1534.9 467.1L1537.4 466.5L1539.9 465.9L1542.4 465.3L1544.9 464.7L1547.4 464.1L1549.9 463.4L1552.4 462.8L1554.9 462.1L1557.4 461.5L1559.9 460.8L1562.4 460.1L1564.9 459.4L1567.4 458.7L1569.9 458.0L1572.4 457.2L1574.9 456.5L1577.4 455.7L1579.9 455.0L1582.4 454.2L1584.9 453.4L1587.4 452.5L1589.9 451.7L1592.4 450.8L1594.9 449.9L1597.4 449.1L1599.9 448.1L1602.4 447.2L1604.9 446.2L1607.4 445.2L1609.9 444.2L1612.4 443.2L1614.9 442.1L1617.4 441.1L1619.9 439.9L1622.4 438.8L1624.9 437.6L1627.4 436.4L1629.9 435.1L1632.4 433.8L1634.9 432.5L1637.4 431.1L1640.0 429.7L1642.5 428.2L1645.0 426.7L1647.5 425.1L1650.0 423.4L1652.5 421.7L1655.0 419.8L1657.5 417.9L1660.0 415.9L1662.5 413.9L1665.0 411.6L1667.5 409.3L1670.0 406.8L1672.5 404.2L1675.0 401.4L1677.5 398.4L1680.0 395.1L1682.5 391.5L1685.0 387.6L1687.5 383.3L1690.0 378.5L1692.5 373.1L1695.0 366.8L1697.5 359.4L1700.0 350.2L1702.5 338.5L1704.0 329.4L1705.0 321.9L1705.0 321.9L1706.0 312.8L1707.0 301.1L1707.5 293.6L1708.0 284.5L1708.5 272.8L1709.0 266.8L1709.2 266.8L1709.5 266.8L1709.7 266.8L1709.8 266.8L1709.9 266.8L1710.0 266.8L1710.0 266.8L1710.0 266.8" fill="none" stroke="#000" stroke-width="2" stroke-linejoin="round"/></g>
<path d="M107.5 236.75L225 236.75L250 235L265 233.5L275 230.75L287.5 226.75L300 222L307.5 218.75L315 213.75L325 206.25L335 198L345 190L352.5 180L362.5 171.25L375 155L382.5 142.5L390 131.25L397.5 115L407.5 92.5L417.5 68.75L425 50L430 32.5L435 12.5L438.75 10.5L447.5 10.5L450 17.5L455 32.5L460 47.5L467.5 66.25L475 81.25L482.5 95L490 106.25L497.5 115.5L501.75 119L505 113.75L509.25 112.5L512.5 122.5L517.5 136.25L521.25 141.25L525 155L531.25 171.25L537.5 182.5L543.75 191.25L551.25 197.5L560 205L567.5 215L573.75 221.25L582.5 223.75L593.75 227.5L607.5 230L808 230" fill="none" stroke="#f513e6" stroke-width="2.4" stroke-linejoin="round"/>
<path d="M1009.5 236.5L1022.5 237.5L1045 237.5L1062.5 236.5L1112.5 236L1122.5 230.75L1127.5 225L1131.25 227.5L1135 222.5L1138.75 215.75L1143 214.25L1145.5 205.5L1152.5 201.25L1160 196.25L1165.5 191.25L1169.5 182.5L1172.5 170.5L1176.25 168.75L1178.75 163.25L1182.5 160.5L1185 164.5L1188.75 153.75L1193.75 142.5L1200 141.25L1206.25 137L1210.5 132.5L1215.5 134.5L1220 127.5L1223.75 120L1226.75 107.5L1230 98.75L1236.25 87.5L1242.5 81.25L1247 77.5L1250 66.25L1253.75 53.75L1257.5 41.25L1262.5 32.5L1268.75 26.25L1277.5 24.25L1282.5 18L1288.75 12.5L1295 11.75L1328.75 12.25L1331.25 16.25L1336.25 32.5L1341.25 42.5L1344.5 41.25L1347.5 47.5L1350.5 43.75L1352.5 46.25L1360 43L1365 37.5L1370 31.25L1373.25 23.75L1385 22.5L1388.75 27.5L1392.5 42.5L1397.5 56.25L1402.5 70L1411.25 81.25L1417.5 96.25L1425 103.75L1435 115L1440.25 118.75L1446.5 130L1452.75 137.5L1466.5 145L1471.5 151.25L1475.25 145L1477.75 137L1481.5 150L1486.5 167.5L1490.25 177.5L1494.5 184.5L1501.5 187.5L1510.25 196.25L1516.5 198.75L1522.75 204.5L1535.25 209.5L1544 220L1554 227.5L1565.25 233L1579 234L1594 235.25L1616.5 235.75L1654 235.75L1674 236.5L1710 236.5" fill="none" stroke="#f513e6" stroke-width="2.4" stroke-linejoin="round"/>
<path d="M457.5 8.2V29.3" stroke="#14ee18" stroke-width="4.8" stroke-dasharray="4.6 3.55" fill="none"/>
<path d="M457.5 271.55V496.3" stroke="#14ee18" stroke-width="4.8" stroke-dasharray="4.6 3.55" fill="none"/>
<path d="M520 8.2V143.2" stroke="#14ee18" stroke-width="4.8" stroke-dasharray="4.6 3.55" fill="none"/>
<path d="M520 271.55V496.3" stroke="#14ee18" stroke-width="4.8" stroke-dasharray="4.6 3.55" fill="none"/>
<path d="M560.6 8.2V204" stroke="#14ee18" stroke-width="4.8" stroke-dasharray="4.6 3.55" fill="none"/>
<path d="M560.6 271.55V496.3" stroke="#14ee18" stroke-width="4.8" stroke-dasharray="4.6 3.55" fill="none"/>
<path d="M197.54 242.5v-7M197.54 4.5v7M287.58 242.5v-7M287.58 4.5v7M377.62 242.5v-7M377.62 4.5v7M467.66 242.5v-7M467.66 4.5v7M557.7 242.5v-7M557.7 4.5v7M647.74 242.5v-7M647.74 4.5v7M737.78 242.5v-7M737.78 4.5v7M107.5 55.6h7M808 55.6h-7M107.5 113.9h7M808 113.9h-7M107.5 172.2h7M808 172.2h-7M107.5 230.4h7M808 230.4h-7" stroke="#161616" stroke-width="1.6" fill="none"/>
<rect x="107.5" y="4.5" width="700.5" height="238" fill="none" stroke="#161616" stroke-width="1.8"/>
<text x="99.3" y="66.5" text-anchor="end" class="tk">-1000</text>
<text x="99.3" y="124.8" text-anchor="end" class="tk">-2000</text>
<text x="99.3" y="183.1" text-anchor="end" class="tk">-3000</text>
<text x="99.3" y="241.3" text-anchor="end" class="tk">-4000</text>
<path d="M1104.5 243.3v-7M1104.5 5.5v7M1199.5 243.3v-7M1199.5 5.5v7M1294.5 243.3v-7M1294.5 5.5v7M1389.5 243.3v-7M1389.5 5.5v7M1484.5 243.3v-7M1484.5 5.5v7M1579.5 243.3v-7M1579.5 5.5v7M1674.5 243.3v-7M1674.5 5.5v7M1009.5 57h7M1710 57h-7M1009.5 115.3h7M1710 115.3h-7M1009.5 173.4h7M1710 173.4h-7M1009.5 231.7h7M1710 231.7h-7" stroke="#161616" stroke-width="1.6" fill="none"/>
<rect x="1009.5" y="5.5" width="700.5" height="237.8" fill="none" stroke="#161616" stroke-width="1.8"/>
<text x="1002.2" y="67.9" text-anchor="end" class="tk">-1000</text>
<text x="1002.2" y="126.2" text-anchor="end" class="tk">-2000</text>
<text x="1002.2" y="184.3" text-anchor="end" class="tk">-3000</text>
<text x="1002.2" y="242.6" text-anchor="end" class="tk">-4000</text>
<path d="M197.54 501.8v-7M287.58 501.8v-7M377.62 501.8v-7M467.66 501.8v-7M557.7 501.8v-7M647.74 501.8v-7M737.78 501.8v-7M107.5 313.8h7M808 313.8h-7M107.5 361h7M808 361h-7M107.5 407.8h7M808 407.8h-7M107.5 454.5h7M808 454.5h-7" stroke="#161616" stroke-width="1.6" fill="none"/>
<rect x="107.5" y="271.3" width="700.5" height="230.5" fill="none" stroke="#161616" stroke-width="1.8"/>
<text x="99.3" y="324.7" text-anchor="end" class="tk">0.3</text>
<text x="99.3" y="371.9" text-anchor="end" class="tk">1.0</text>
<text x="99.3" y="418.7" text-anchor="end" class="tk">3.2</text>
<text x="99.3" y="465.4" text-anchor="end" class="tk">10.0</text>
<text x="99.3" y="512.7" text-anchor="end" class="tk">31.6</text>
<text x="107.5" y="535" text-anchor="middle" class="tk">0</text>
<text x="197.54" y="535" text-anchor="middle" class="tk">10</text>
<text x="287.58" y="535" text-anchor="middle" class="tk">20</text>
<text x="377.62" y="535" text-anchor="middle" class="tk">30</text>
<text x="467.66" y="535" text-anchor="middle" class="tk">40</text>
<text x="557.7" y="535" text-anchor="middle" class="tk">50</text>
<text x="647.74" y="535" text-anchor="middle" class="tk">60</text>
<text x="737.78" y="535" text-anchor="middle" class="tk">70</text>
<text x="457.75" y="569.3" text-anchor="middle" class="lb">Distance (km)</text>
<path d="M1104.5 502.5v-7M1199.5 502.5v-7M1294.5 502.5v-7M1389.5 502.5v-7M1484.5 502.5v-7M1579.5 502.5v-7M1674.5 502.5v-7M1009.5 314.5h7M1710 314.5h-7M1009.5 361.7h7M1710 361.7h-7M1009.5 408.5h7M1710 408.5h-7M1009.5 455.2h7M1710 455.2h-7" stroke="#161616" stroke-width="1.6" fill="none"/>
<rect x="1009.5" y="271.8" width="700.5" height="230.7" fill="none" stroke="#161616" stroke-width="1.8"/>
<text x="1002.2" y="325.4" text-anchor="end" class="tk">0.3</text>
<text x="1002.2" y="372.6" text-anchor="end" class="tk">1.0</text>
<text x="1002.2" y="419.4" text-anchor="end" class="tk">3.2</text>
<text x="1002.2" y="466.1" text-anchor="end" class="tk">10.0</text>
<text x="1002.2" y="513.4" text-anchor="end" class="tk">31.6</text>
<text x="1009.5" y="535.7" text-anchor="middle" class="tk">0</text>
<text x="1104.5" y="535.7" text-anchor="middle" class="tk">10</text>
<text x="1199.5" y="535.7" text-anchor="middle" class="tk">20</text>
<text x="1294.5" y="535.7" text-anchor="middle" class="tk">30</text>
<text x="1389.5" y="535.7" text-anchor="middle" class="tk">40</text>
<text x="1484.5" y="535.7" text-anchor="middle" class="tk">50</text>
<text x="1579.5" y="535.7" text-anchor="middle" class="tk">60</text>
<text x="1674.5" y="535.7" text-anchor="middle" class="tk">70</text>
<text x="1359.75" y="570" text-anchor="middle" class="lb">Distance (km)</text>
<rect x="821.8" y="271.3" width="22" height="230" fill="url(#cb)" stroke="#8a8a8a" stroke-width="0.6"/>
<text x="850.1" y="280.3" class="cbt">5</text>
<text x="850.1" y="395.5" class="cbt">0</text>
<text x="850.1" y="510.9" class="cbt">-5</text>
<rect x="1721.3" y="271.8" width="21.7" height="230.2" fill="url(#cb)" stroke="#8a8a8a" stroke-width="0.6"/>
<text x="1749.3" y="280.8" class="cbt">5</text>
<text x="1749.3" y="396.1" class="cbt">0</text>
<text x="1749.3" y="511.6" class="cbt">-5</text>
<text x="2.6" y="25.8" class="pl">A</text>
<text x="905.1" y="25.8" class="pl">B</text>
<text x="1.6" y="283.5" class="pl">C</text>
<text x="905.1" y="283.4" class="pl">D</text>
<text transform="translate(25 126.5) rotate(-90)" text-anchor="middle" class="lb">depth (m)</text>
<text transform="translate(927 127.5) rotate(-90)" text-anchor="middle" class="lb">depth (m)</text>
<text transform="translate(41 386) rotate(-90)" text-anchor="middle" class="lb">λ (km)</text>
<text transform="translate(945 387) rotate(-90)" text-anchor="middle" class="lb">λ (km)</text>
</svg></body></html>
